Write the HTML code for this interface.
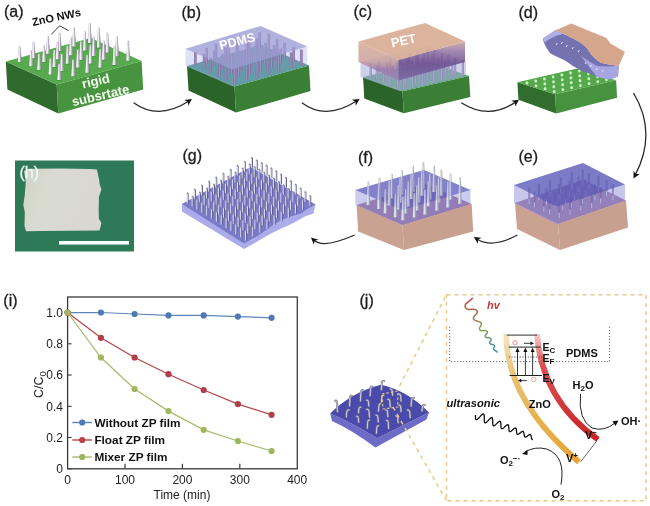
<!DOCTYPE html>
<html><head><meta charset="utf-8"><style>
html,body{margin:0;padding:0;background:#fff;overflow:hidden}
svg{display:block}
</style></head><body>
<svg width="650" height="506" viewBox="0 0 650 506">
<rect width="650" height="506" fill="#fff"/>
<text x="4" y="16.8" font-family="'Liberation Sans', Arial, sans-serif" font-size="16" fill="#1c1c1c" stroke="#1c1c1c" stroke-width="0.3">(a)</text>
<polygon points="5.8,61.5 56.7,84.6 58.3,113.6 7.4,89.5" fill="#2f6b2c" opacity="1"/><polygon points="56.7,84.6 141.6,61.0 143.2,89.5 58.3,113.6" fill="#48933f" opacity="1"/><polygon points="5.8,61.5 90.7,37.9 141.6,61.0 56.7,84.6" fill="#57aa4e" opacity="1"/>
<polygon points="87.2,43.8 92.4,43.8 91.3,33.2 88.3,33.2" fill="#3e8a38" opacity="0.5"/>
<path d="M87.9,43.0 L88.9,23.5 Q89.8,21.9 90.7,23.5 L91.7,43.0 Z" fill="#a8a2b2" opacity="1"/><path d="M87.9,43.0 L88.9,23.5 Q89.6,22.1 90.0,22.8 L90.2,43.0 Z" fill="#f2ecf2" opacity="1"/>
<polygon points="71.4,47.2 76.6,47.2 75.5,37.1 72.5,37.1" fill="#3e8a38" opacity="0.5"/>
<path d="M72.1,46.4 L73.2,27.7 Q74.0,26.2 74.9,27.7 L75.9,46.4 Z" fill="#a8a2b2" opacity="1"/><path d="M72.1,46.4 L73.2,27.7 Q73.8,26.3 74.2,27.0 L74.4,46.4 Z" fill="#f2ecf2" opacity="1"/>
<polygon points="96.2,48.4 101.4,48.4 100.3,37.8 97.3,37.8" fill="#3e8a38" opacity="0.5"/>
<path d="M96.9,47.6 L97.9,28.1 Q98.8,26.5 99.6,28.1 L100.7,47.6 Z" fill="#a8a2b2" opacity="1"/><path d="M96.9,47.6 L97.9,28.1 Q98.6,26.7 98.9,27.4 L99.1,47.6 Z" fill="#f2ecf2" opacity="1"/>
<polygon points="82.3,51.3 87.5,51.3 86.4,41.2 83.4,41.2" fill="#3e8a38" opacity="0.5"/>
<path d="M83.0,50.5 L84.1,31.8 Q84.9,30.3 85.8,31.8 L86.8,50.5 Z" fill="#a8a2b2" opacity="1"/><path d="M83.0,50.5 L84.1,31.8 Q84.7,30.5 85.1,31.2 L85.3,50.5 Z" fill="#f2ecf2" opacity="1"/>
<polygon points="57.1,51.9 62.3,51.9 61.2,42.1 58.2,42.1" fill="#3e8a38" opacity="0.5"/>
<path d="M57.8,51.1 L58.8,33.2 Q59.7,31.7 60.5,33.2 L61.6,51.1 Z" fill="#a8a2b2" opacity="1"/><path d="M57.8,51.1 L58.8,33.2 Q59.5,31.8 59.9,32.5 L60.1,51.1 Z" fill="#f2ecf2" opacity="1"/>
<polygon points="104.9,53.3 110.1,53.3 109.0,42.7 106.0,42.7" fill="#3e8a38" opacity="0.5"/>
<path d="M105.6,52.5 L106.6,33.0 Q107.5,31.4 108.3,33.0 L109.4,52.5 Z" fill="#a8a2b2" opacity="1"/><path d="M105.6,52.5 L106.6,33.0 Q107.3,31.6 107.7,32.3 L107.9,52.5 Z" fill="#f2ecf2" opacity="1"/>
<polygon points="45.3,54.5 50.5,54.5 49.4,45.2 46.4,45.2" fill="#3e8a38" opacity="0.5"/>
<path d="M46.0,53.7 L47.1,36.6 Q47.9,35.1 48.8,36.6 L49.8,53.7 Z" fill="#a8a2b2" opacity="1"/><path d="M46.0,53.7 L47.1,36.6 Q47.8,35.2 48.1,35.9 L48.3,53.7 Z" fill="#f2ecf2" opacity="1"/>
<polygon points="68.3,56.1 73.5,56.1 72.4,46.4 69.4,46.4" fill="#3e8a38" opacity="0.5"/>
<path d="M69.0,55.3 L70.0,37.4 Q70.9,35.9 71.7,37.4 L72.8,55.3 Z" fill="#a8a2b2" opacity="1"/><path d="M69.0,55.3 L70.0,37.4 Q70.7,36.1 71.1,36.8 L71.3,55.3 Z" fill="#f2ecf2" opacity="1"/>
<polygon points="91.2,56.8 96.4,56.8 95.3,46.7 92.3,46.7" fill="#3e8a38" opacity="0.5"/>
<path d="M91.9,56.0 L92.9,37.3 Q93.8,35.8 94.6,37.3 L95.7,56.0 Z" fill="#a8a2b2" opacity="1"/><path d="M91.9,56.0 L92.9,37.3 Q93.6,36.0 93.9,36.7 L94.1,56.0 Z" fill="#f2ecf2" opacity="1"/>
<polygon points="114.3,57.1 119.5,57.1 118.4,46.6 115.4,46.6" fill="#3e8a38" opacity="0.5"/>
<path d="M115.0,56.3 L116.0,36.8 Q116.9,35.3 117.7,36.8 L118.8,56.3 Z" fill="#a8a2b2" opacity="1"/><path d="M115.0,56.3 L116.0,36.8 Q116.7,35.5 117.1,36.1 L117.3,56.3 Z" fill="#f2ecf2" opacity="1"/>
<polygon points="31.0,59.1 36.2,59.1 35.1,50.1 32.1,50.1" fill="#3e8a38" opacity="0.5"/>
<path d="M31.7,58.3 L32.7,42.0 Q33.6,40.5 34.4,42.0 L35.5,58.3 Z" fill="#a8a2b2" opacity="1"/><path d="M31.7,58.3 L32.7,42.0 Q33.4,40.6 33.8,41.3 L34.0,58.3 Z" fill="#f2ecf2" opacity="1"/>
<polygon points="55.0,60.1 60.2,60.1 59.1,50.8 56.1,50.8" fill="#3e8a38" opacity="0.5"/>
<path d="M55.7,59.3 L56.8,42.2 Q57.6,40.7 58.5,42.2 L59.5,59.3 Z" fill="#a8a2b2" opacity="1"/><path d="M55.7,59.3 L56.8,42.2 Q57.5,40.8 57.8,41.5 L58.0,59.3 Z" fill="#f2ecf2" opacity="1"/>
<polygon points="101.2,60.6 106.4,60.6 105.3,50.5 102.3,50.5" fill="#3e8a38" opacity="0.5"/>
<path d="M101.9,59.8 L102.9,41.1 Q103.8,39.6 104.6,41.1 L105.7,59.8 Z" fill="#a8a2b2" opacity="1"/><path d="M101.9,59.8 L102.9,41.1 Q103.6,39.7 103.9,40.4 L104.1,59.8 Z" fill="#f2ecf2" opacity="1"/>
<polygon points="78.5,60.8 83.7,60.8 82.6,51.0 79.6,51.0" fill="#3e8a38" opacity="0.5"/>
<path d="M79.2,60.0 L80.3,42.1 Q81.1,40.6 82.0,42.1 L83.0,60.0 Z" fill="#a8a2b2" opacity="1"/><path d="M79.2,60.0 L80.3,42.1 Q81.0,40.7 81.3,41.4 L81.5,60.0 Z" fill="#f2ecf2" opacity="1"/>
<polygon points="125.6,61.5 130.8,61.5 129.7,50.9 126.7,50.9" fill="#3e8a38" opacity="0.5"/>
<path d="M126.3,60.7 L127.4,41.2 Q128.2,39.7 129.1,41.2 L130.1,60.7 Z" fill="#a8a2b2" opacity="1"/><path d="M126.3,60.7 L127.4,41.2 Q128.0,39.8 128.4,40.5 L128.6,60.7 Z" fill="#f2ecf2" opacity="1"/>
<polygon points="17.0,62.8 22.2,62.8 21.1,54.2 18.1,54.2" fill="#3e8a38" opacity="0.5"/>
<path d="M17.7,62.0 L18.8,46.5 Q19.6,44.9 20.5,46.5 L21.5,62.0 Z" fill="#a8a2b2" opacity="1"/><path d="M17.7,62.0 L18.8,46.5 Q19.4,45.1 19.8,45.8 L20.0,62.0 Z" fill="#f2ecf2" opacity="1"/>
<polygon points="41.5,62.8 46.7,62.8 45.6,53.9 42.6,53.9" fill="#3e8a38" opacity="0.5"/>
<path d="M42.2,62.0 L43.2,45.7 Q44.1,44.2 44.9,45.7 L46.0,62.0 Z" fill="#a8a2b2" opacity="1"/><path d="M42.2,62.0 L43.2,45.7 Q43.9,44.3 44.2,45.0 L44.5,62.0 Z" fill="#f2ecf2" opacity="1"/>
<polygon points="87.9,64.3 93.1,64.3 92.0,54.5 89.0,54.5" fill="#3e8a38" opacity="0.5"/>
<path d="M88.6,63.5 L89.7,45.6 Q90.5,44.0 91.4,45.6 L92.4,63.5 Z" fill="#a8a2b2" opacity="1"/><path d="M88.6,63.5 L89.7,45.6 Q90.4,44.2 90.7,44.9 L90.9,63.5 Z" fill="#f2ecf2" opacity="1"/>
<polygon points="65.0,64.5 70.2,64.5 69.1,55.2 66.1,55.2" fill="#3e8a38" opacity="0.5"/>
<path d="M65.7,63.7 L66.7,46.6 Q67.6,45.1 68.4,46.6 L69.5,63.7 Z" fill="#a8a2b2" opacity="1"/><path d="M65.7,63.7 L66.7,46.6 Q67.4,45.2 67.7,45.9 L67.9,63.7 Z" fill="#f2ecf2" opacity="1"/>
<polygon points="111.9,65.9 117.1,65.9 116.0,55.7 113.0,55.7" fill="#3e8a38" opacity="0.5"/>
<path d="M112.6,65.1 L113.6,46.4 Q114.5,44.8 115.4,46.4 L116.4,65.1 Z" fill="#a8a2b2" opacity="1"/><path d="M112.6,65.1 L113.6,46.4 Q114.3,45.0 114.7,45.7 L114.9,65.1 Z" fill="#f2ecf2" opacity="1"/>
<polygon points="28.5,67.1 33.7,67.1 32.6,58.5 29.6,58.5" fill="#3e8a38" opacity="0.5"/>
<path d="M29.2,66.3 L30.2,50.8 Q31.1,49.2 31.9,50.8 L33.0,66.3 Z" fill="#a8a2b2" opacity="1"/><path d="M29.2,66.3 L30.2,50.8 Q30.9,49.4 31.2,50.1 L31.5,66.3 Z" fill="#f2ecf2" opacity="1"/>
<polygon points="51.8,67.7 57.0,67.7 55.9,58.7 52.9,58.7" fill="#3e8a38" opacity="0.5"/>
<path d="M52.5,66.9 L53.6,50.6 Q54.4,49.0 55.3,50.6 L56.3,66.9 Z" fill="#a8a2b2" opacity="1"/><path d="M52.5,66.9 L53.6,50.6 Q54.2,49.2 54.6,49.9 L54.8,66.9 Z" fill="#f2ecf2" opacity="1"/>
<polygon points="75.4,68.2 80.6,68.2 79.5,58.9 76.5,58.9" fill="#3e8a38" opacity="0.5"/>
<path d="M76.1,67.4 L77.1,50.3 Q78.0,48.8 78.8,50.3 L79.9,67.4 Z" fill="#a8a2b2" opacity="1"/><path d="M76.1,67.4 L77.1,50.3 Q77.8,49.0 78.1,49.6 L78.4,67.4 Z" fill="#f2ecf2" opacity="1"/>
<polygon points="97.7,68.4 102.9,68.4 101.8,58.7 98.8,58.7" fill="#3e8a38" opacity="0.5"/>
<path d="M98.4,67.6 L99.5,49.7 Q100.3,48.2 101.2,49.7 L102.2,67.6 Z" fill="#a8a2b2" opacity="1"/><path d="M98.4,67.6 L99.5,49.7 Q100.2,48.4 100.5,49.1 L100.7,67.6 Z" fill="#f2ecf2" opacity="1"/>
<polygon points="36.5,70.8 41.7,70.8 40.6,62.2 37.6,62.2" fill="#3e8a38" opacity="0.5"/>
<path d="M37.2,70.0 L38.3,54.5 Q39.1,52.9 40.0,54.5 L41.0,70.0 Z" fill="#a8a2b2" opacity="1"/><path d="M37.2,70.0 L38.3,54.5 Q39.0,53.1 39.3,53.8 L39.5,70.0 Z" fill="#f2ecf2" opacity="1"/>
<polygon points="59.3,71.7 64.5,71.7 63.4,62.7 60.4,62.7" fill="#3e8a38" opacity="0.5"/>
<path d="M60.0,70.9 L61.0,54.6 Q61.9,53.0 62.8,54.6 L63.8,70.9 Z" fill="#a8a2b2" opacity="1"/><path d="M60.0,70.9 L61.0,54.6 Q61.7,53.2 62.1,53.9 L62.3,70.9 Z" fill="#f2ecf2" opacity="1"/>
<polygon points="84.7,73.5 89.9,73.5 88.8,64.1 85.8,64.1" fill="#3e8a38" opacity="0.5"/>
<path d="M85.4,72.7 L86.5,55.6 Q87.3,54.0 88.2,55.6 L89.2,72.7 Z" fill="#a8a2b2" opacity="1"/><path d="M85.4,72.7 L86.5,55.6 Q87.1,54.2 87.5,54.9 L87.7,72.7 Z" fill="#f2ecf2" opacity="1"/>
<polygon points="47.9,75.3 53.1,75.3 52.0,66.7 49.0,66.7" fill="#3e8a38" opacity="0.5"/>
<path d="M48.6,74.5 L49.7,59.0 Q50.5,57.4 51.4,59.0 L52.4,74.5 Z" fill="#a8a2b2" opacity="1"/><path d="M48.6,74.5 L49.7,59.0 Q50.4,57.6 50.7,58.3 L50.9,74.5 Z" fill="#f2ecf2" opacity="1"/>
<polygon points="70.6,77.1 75.8,77.1 74.7,68.2 71.7,68.2" fill="#3e8a38" opacity="0.5"/>
<path d="M71.3,76.3 L72.4,60.0 Q73.2,58.5 74.1,60.0 L75.1,76.3 Z" fill="#a8a2b2" opacity="1"/><path d="M71.3,76.3 L72.4,60.0 Q73.0,58.7 73.4,59.4 L73.6,76.3 Z" fill="#f2ecf2" opacity="1"/>
<polygon points="56.7,80.9 61.9,80.9 60.8,72.3 57.8,72.3" fill="#3e8a38" opacity="0.5"/>
<path d="M57.4,80.1 L58.5,64.6 Q59.3,63.0 60.2,64.6 L61.2,80.1 Z" fill="#a8a2b2" opacity="1"/><path d="M57.4,80.1 L58.5,64.6 Q59.2,63.2 59.5,63.9 L59.7,80.1 Z" fill="#f2ecf2" opacity="1"/>
<text x="0" y="0" font-family="'Liberation Sans', Arial, sans-serif" font-size="11" font-weight="bold" fill="#111" transform="translate(33,26) rotate(-12)">ZnO NWs</text>
<path d="M51.2,34.5 L59.6,25.8 L68.5,30.5" fill="none" stroke="#222" stroke-width="0.9"/>
<text x="0" y="0" font-family="'Liberation Sans', Arial, sans-serif" font-size="13" font-weight="bold" fill="#f4fff0" transform="translate(83,88.5) rotate(-13)">rigid</text>
<text x="0" y="0" font-family="'Liberation Sans', Arial, sans-serif" font-size="13" font-weight="bold" fill="#f4fff0" transform="translate(73,106.3) rotate(-13)">subsrtate</text>
<path d="M133.6,102.8 Q158.6,120.7 188.5,101.3" fill="none" stroke="#2a2a2a" stroke-width="1.3"/><polygon points="192.0,99.0 188.0,105.7 187.9,101.7 184.2,99.9" fill="#111"/>
<text x="181.5" y="17.8" font-family="'Liberation Sans', Arial, sans-serif" font-size="16" fill="#1c1c1c" stroke="#1c1c1c" stroke-width="0.3">(b)</text>
<polygon points="187.0,66.0 234.5,86.6 236.0,112.6 188.5,90.5" fill="#2b6428" opacity="1"/><polygon points="234.5,86.6 309.0,65.4 310.5,91.0 236.0,112.6" fill="#3a7f35" opacity="1"/><polygon points="187.0,66.0 261.5,44.8 309.0,65.4 234.5,86.6" fill="#4e9c90" opacity="1"/>
<rect x="258.4" y="32.4" width="2.6" height="15.5" fill="#7a5e90"/>
<rect x="259.1" y="32.4" width="0.9" height="15.5" fill="#b090b8"/>
<rect x="247.9" y="35.0" width="2.6" height="15.1" fill="#7a5e90"/>
<rect x="248.6" y="35.0" width="0.9" height="15.1" fill="#b090b8"/>
<rect x="267.5" y="33.8" width="2.6" height="16.5" fill="#7a5e90"/>
<rect x="268.2" y="33.8" width="0.9" height="16.5" fill="#b090b8"/>
<rect x="255.7" y="38.4" width="2.6" height="15.2" fill="#7a5e90"/>
<rect x="256.4" y="38.4" width="0.9" height="15.2" fill="#b090b8"/>
<rect x="236.0" y="39.3" width="2.6" height="14.8" fill="#7a5e90"/>
<rect x="236.7" y="39.3" width="0.9" height="14.8" fill="#b090b8"/>
<rect x="275.8" y="39.0" width="2.6" height="15.8" fill="#7a5e90"/>
<rect x="276.5" y="39.0" width="0.9" height="15.8" fill="#b090b8"/>
<rect x="227.3" y="41.9" width="2.6" height="15.6" fill="#7a5e90"/>
<rect x="228.0" y="41.9" width="0.9" height="15.6" fill="#b090b8"/>
<rect x="264.3" y="42.8" width="2.6" height="14.9" fill="#7a5e90"/>
<rect x="265.0" y="42.8" width="0.9" height="14.9" fill="#b090b8"/>
<rect x="245.4" y="42.9" width="2.6" height="15.1" fill="#7a5e90"/>
<rect x="246.1" y="42.9" width="0.9" height="15.1" fill="#b090b8"/>
<rect x="283.3" y="42.7" width="2.6" height="15.6" fill="#7a5e90"/>
<rect x="284.0" y="42.7" width="0.9" height="15.6" fill="#b090b8"/>
<rect x="214.7" y="43.6" width="2.6" height="15.7" fill="#7a5e90"/>
<rect x="215.4" y="43.6" width="0.9" height="15.7" fill="#b090b8"/>
<rect x="272.8" y="45.0" width="2.6" height="15.6" fill="#7a5e90"/>
<rect x="273.5" y="45.0" width="0.9" height="15.6" fill="#b090b8"/>
<rect x="254.7" y="44.5" width="2.6" height="16.2" fill="#7a5e90"/>
<rect x="255.4" y="44.5" width="0.9" height="16.2" fill="#b090b8"/>
<rect x="235.6" y="46.5" width="2.6" height="14.6" fill="#7a5e90"/>
<rect x="236.3" y="46.5" width="0.9" height="14.6" fill="#b090b8"/>
<rect x="292.3" y="46.8" width="2.6" height="15.6" fill="#7a5e90"/>
<rect x="293.0" y="46.8" width="0.9" height="15.6" fill="#b090b8"/>
<rect x="205.4" y="48.1" width="2.6" height="15.1" fill="#7a5e90"/>
<rect x="206.1" y="48.1" width="0.9" height="15.1" fill="#b090b8"/>
<rect x="224.2" y="47.4" width="2.6" height="15.8" fill="#7a5e90"/>
<rect x="224.9" y="47.4" width="0.9" height="15.8" fill="#b090b8"/>
<rect x="279.4" y="48.5" width="2.6" height="15.6" fill="#7a5e90"/>
<rect x="280.1" y="48.5" width="0.9" height="15.6" fill="#b090b8"/>
<rect x="263.1" y="49.5" width="2.6" height="14.9" fill="#7a5e90"/>
<rect x="263.8" y="49.5" width="0.9" height="14.9" fill="#b090b8"/>
<rect x="242.1" y="50.1" width="2.6" height="14.5" fill="#7a5e90"/>
<rect x="242.8" y="50.1" width="0.9" height="14.5" fill="#b090b8"/>
<rect x="300.1" y="49.6" width="2.6" height="16.0" fill="#7a5e90"/>
<rect x="300.8" y="49.6" width="0.9" height="16.0" fill="#b090b8"/>
<rect x="194.1" y="51.8" width="2.6" height="14.0" fill="#7a5e90"/>
<rect x="194.8" y="51.8" width="0.9" height="14.0" fill="#b090b8"/>
<rect x="212.9" y="50.5" width="2.6" height="15.4" fill="#7a5e90"/>
<rect x="213.6" y="50.5" width="0.9" height="15.4" fill="#b090b8"/>
<rect x="250.0" y="51.2" width="2.6" height="15.9" fill="#7a5e90"/>
<rect x="250.7" y="51.2" width="0.9" height="15.9" fill="#b090b8"/>
<rect x="230.3" y="53.2" width="2.6" height="14.4" fill="#7a5e90"/>
<rect x="231.0" y="53.2" width="0.9" height="14.4" fill="#b090b8"/>
<rect x="289.8" y="52.4" width="2.6" height="15.2" fill="#7a5e90"/>
<rect x="290.5" y="52.4" width="0.9" height="15.2" fill="#b090b8"/>
<rect x="270.5" y="52.2" width="2.6" height="16.1" fill="#7a5e90"/>
<rect x="271.2" y="52.2" width="0.9" height="16.1" fill="#b090b8"/>
<rect x="202.8" y="54.2" width="2.6" height="14.9" fill="#7a5e90"/>
<rect x="203.5" y="54.2" width="0.9" height="14.9" fill="#b090b8"/>
<rect x="221.1" y="54.2" width="2.6" height="15.4" fill="#7a5e90"/>
<rect x="221.8" y="54.2" width="0.9" height="15.4" fill="#b090b8"/>
<rect x="259.5" y="55.9" width="2.6" height="14.9" fill="#7a5e90"/>
<rect x="260.2" y="55.9" width="0.9" height="14.9" fill="#b090b8"/>
<rect x="239.7" y="56.6" width="2.6" height="14.3" fill="#7a5e90"/>
<rect x="240.4" y="56.6" width="0.9" height="14.3" fill="#b090b8"/>
<rect x="277.5" y="56.2" width="2.6" height="15.1" fill="#7a5e90"/>
<rect x="278.2" y="56.2" width="0.9" height="15.1" fill="#b090b8"/>
<rect x="208.9" y="57.9" width="2.6" height="15.2" fill="#7a5e90"/>
<rect x="209.6" y="57.9" width="0.9" height="15.2" fill="#b090b8"/>
<rect x="230.3" y="59.3" width="2.6" height="14.4" fill="#7a5e90"/>
<rect x="231.0" y="59.3" width="0.9" height="14.4" fill="#b090b8"/>
<rect x="248.4" y="59.4" width="2.6" height="14.7" fill="#7a5e90"/>
<rect x="249.1" y="59.4" width="0.9" height="14.7" fill="#b090b8"/>
<rect x="266.7" y="59.6" width="2.6" height="15.1" fill="#7a5e90"/>
<rect x="267.4" y="59.6" width="0.9" height="15.1" fill="#b090b8"/>
<rect x="237.5" y="61.9" width="2.6" height="14.6" fill="#7a5e90"/>
<rect x="238.2" y="61.9" width="0.9" height="14.6" fill="#b090b8"/>
<rect x="218.2" y="62.6" width="2.6" height="14.4" fill="#7a5e90"/>
<rect x="218.9" y="62.6" width="0.9" height="14.4" fill="#b090b8"/>
<rect x="255.8" y="61.5" width="2.6" height="15.9" fill="#7a5e90"/>
<rect x="256.5" y="61.5" width="0.9" height="15.9" fill="#b090b8"/>
<rect x="245.5" y="66.4" width="2.6" height="14.1" fill="#7a5e90"/>
<rect x="246.2" y="66.4" width="0.9" height="14.1" fill="#b090b8"/>
<rect x="224.7" y="66.9" width="2.6" height="13.6" fill="#7a5e90"/>
<rect x="225.4" y="66.9" width="0.9" height="13.6" fill="#b090b8"/>
<rect x="233.6" y="68.3" width="2.6" height="15.5" fill="#7a5e90"/>
<rect x="234.3" y="68.3" width="0.9" height="15.5" fill="#b090b8"/>
<polygon points="185.5,48.7 232.0,69.4 232.0,86.6 185.5,66.0" fill="#9c9ce0" opacity="0.3"/><polygon points="232.0,69.4 307.2,46.6 307.2,65.4 232.0,86.6" fill="#9c9ce0" opacity="0.3"/><polygon points="185.5,48.7 260.7,25.9 307.2,46.6 232.0,69.4" fill="#9e9ed6" opacity="0.8"/>
<text x="0" y="0" font-family="'Liberation Sans', Arial, sans-serif" font-size="12.6" font-weight="bold" fill="#fff" transform="translate(220.5,49.8) rotate(-14)">PDMS</text>
<path d="M301.8,102.8 Q325.9,120.7 356.1,101.3" fill="none" stroke="#2a2a2a" stroke-width="1.3"/><polygon points="359.6,99.0 355.6,105.7 355.5,101.7 351.8,99.8" fill="#111"/>
<text x="353.5" y="17.3" font-family="'Liberation Sans', Arial, sans-serif" font-size="16" fill="#1c1c1c" stroke="#1c1c1c" stroke-width="0.3">(c)</text>
<polygon points="363.0,77.0 402.5,91.3 403.8,113.3 364.3,98.5" fill="#2b6428" opacity="1"/><polygon points="402.5,91.3 469.0,76.0 470.3,97.0 403.8,113.3" fill="#3a7f35" opacity="1"/><polygon points="363.0,77.0 429.5,61.7 469.0,76.0 402.5,91.3" fill="#58a070" opacity="1"/>
<rect x="426.5" y="47.2" width="2.2" height="15.9" fill="#7c6e90"/>
<rect x="427.1" y="47.2" width="0.8" height="15.9" fill="#b4a8c4"/>
<rect x="416.9" y="50.1" width="2.2" height="15.6" fill="#7c6e90"/>
<rect x="417.5" y="50.1" width="0.8" height="15.6" fill="#b4a8c4"/>
<rect x="433.2" y="50.0" width="2.2" height="15.9" fill="#7c6e90"/>
<rect x="433.8" y="50.0" width="0.8" height="15.9" fill="#b4a8c4"/>
<rect x="408.1" y="52.8" width="2.2" height="15.3" fill="#7c6e90"/>
<rect x="408.7" y="52.8" width="0.8" height="15.3" fill="#b4a8c4"/>
<rect x="423.0" y="53.0" width="2.2" height="15.6" fill="#7c6e90"/>
<rect x="423.6" y="53.0" width="0.8" height="15.6" fill="#b4a8c4"/>
<rect x="440.8" y="53.0" width="2.2" height="15.9" fill="#7c6e90"/>
<rect x="441.4" y="53.0" width="0.8" height="15.9" fill="#b4a8c4"/>
<rect x="430.7" y="54.8" width="2.2" height="15.6" fill="#7c6e90"/>
<rect x="431.3" y="54.8" width="0.8" height="15.6" fill="#b4a8c4"/>
<rect x="415.4" y="55.4" width="2.2" height="15.3" fill="#7c6e90"/>
<rect x="416.0" y="55.4" width="0.8" height="15.3" fill="#b4a8c4"/>
<rect x="398.5" y="55.8" width="2.2" height="15.0" fill="#7c6e90"/>
<rect x="399.1" y="55.8" width="0.8" height="15.0" fill="#b4a8c4"/>
<rect x="447.4" y="55.1" width="2.2" height="15.9" fill="#7c6e90"/>
<rect x="448.0" y="55.1" width="0.8" height="15.9" fill="#b4a8c4"/>
<rect x="389.2" y="57.6" width="2.2" height="14.7" fill="#7c6e90"/>
<rect x="389.8" y="57.6" width="0.8" height="14.7" fill="#b4a8c4"/>
<rect x="437.2" y="57.7" width="2.2" height="15.6" fill="#7c6e90"/>
<rect x="437.8" y="57.7" width="0.8" height="15.6" fill="#b4a8c4"/>
<rect x="405.7" y="58.3" width="2.2" height="15.0" fill="#7c6e90"/>
<rect x="406.3" y="58.3" width="0.8" height="15.0" fill="#b4a8c4"/>
<rect x="421.2" y="58.1" width="2.2" height="15.3" fill="#7c6e90"/>
<rect x="421.8" y="58.1" width="0.8" height="15.3" fill="#b4a8c4"/>
<rect x="454.0" y="57.8" width="2.2" height="15.9" fill="#7c6e90"/>
<rect x="454.6" y="57.8" width="0.8" height="15.9" fill="#b4a8c4"/>
<rect x="427.0" y="59.9" width="2.2" height="15.3" fill="#7c6e90"/>
<rect x="427.6" y="59.9" width="0.8" height="15.3" fill="#b4a8c4"/>
<rect x="395.9" y="60.6" width="2.2" height="14.7" fill="#7c6e90"/>
<rect x="396.5" y="60.6" width="0.8" height="14.7" fill="#b4a8c4"/>
<rect x="378.3" y="61.0" width="2.2" height="14.4" fill="#7c6e90"/>
<rect x="378.9" y="61.0" width="0.8" height="14.4" fill="#b4a8c4"/>
<rect x="444.2" y="59.9" width="2.2" height="15.6" fill="#7c6e90"/>
<rect x="444.8" y="59.9" width="0.8" height="15.6" fill="#b4a8c4"/>
<rect x="410.9" y="60.7" width="2.2" height="15.0" fill="#7c6e90"/>
<rect x="411.5" y="60.7" width="0.8" height="15.0" fill="#b4a8c4"/>
<rect x="461.8" y="59.9" width="2.2" height="15.9" fill="#7c6e90"/>
<rect x="462.4" y="59.9" width="0.8" height="15.9" fill="#b4a8c4"/>
<rect x="385.9" y="62.3" width="2.2" height="14.4" fill="#7c6e90"/>
<rect x="386.5" y="62.3" width="0.8" height="14.4" fill="#b4a8c4"/>
<rect x="402.0" y="62.6" width="2.2" height="14.7" fill="#7c6e90"/>
<rect x="402.6" y="62.6" width="0.8" height="14.7" fill="#b4a8c4"/>
<rect x="369.6" y="63.5" width="2.2" height="14.1" fill="#7c6e90"/>
<rect x="370.2" y="63.5" width="0.8" height="14.1" fill="#b4a8c4"/>
<rect x="433.9" y="62.7" width="2.2" height="15.3" fill="#7c6e90"/>
<rect x="434.5" y="62.7" width="0.8" height="15.3" fill="#b4a8c4"/>
<rect x="418.6" y="63.2" width="2.2" height="15.0" fill="#7c6e90"/>
<rect x="419.2" y="63.2" width="0.8" height="15.0" fill="#b4a8c4"/>
<rect x="451.1" y="62.7" width="2.2" height="15.6" fill="#7c6e90"/>
<rect x="451.7" y="62.7" width="0.8" height="15.6" fill="#b4a8c4"/>
<rect x="375.7" y="65.2" width="2.2" height="14.1" fill="#7c6e90"/>
<rect x="376.3" y="65.2" width="0.8" height="14.1" fill="#b4a8c4"/>
<rect x="409.3" y="64.7" width="2.2" height="14.7" fill="#7c6e90"/>
<rect x="409.9" y="64.7" width="0.8" height="14.7" fill="#b4a8c4"/>
<rect x="440.6" y="64.7" width="2.2" height="15.3" fill="#7c6e90"/>
<rect x="441.2" y="64.7" width="0.8" height="15.3" fill="#b4a8c4"/>
<rect x="391.8" y="65.9" width="2.2" height="14.4" fill="#7c6e90"/>
<rect x="392.4" y="65.9" width="0.8" height="14.4" fill="#b4a8c4"/>
<rect x="426.2" y="65.6" width="2.2" height="15.0" fill="#7c6e90"/>
<rect x="426.8" y="65.6" width="0.8" height="15.0" fill="#b4a8c4"/>
<rect x="414.4" y="67.2" width="2.2" height="14.7" fill="#7c6e90"/>
<rect x="415.0" y="67.2" width="0.8" height="14.7" fill="#b4a8c4"/>
<rect x="382.6" y="67.9" width="2.2" height="14.1" fill="#7c6e90"/>
<rect x="383.2" y="67.9" width="0.8" height="14.1" fill="#b4a8c4"/>
<rect x="432.4" y="67.5" width="2.2" height="15.0" fill="#7c6e90"/>
<rect x="433.0" y="67.5" width="0.8" height="15.0" fill="#b4a8c4"/>
<rect x="399.8" y="68.2" width="2.2" height="14.4" fill="#7c6e90"/>
<rect x="400.4" y="68.2" width="0.8" height="14.4" fill="#b4a8c4"/>
<rect x="404.5" y="69.8" width="2.2" height="14.4" fill="#7c6e90"/>
<rect x="405.1" y="69.8" width="0.8" height="14.4" fill="#b4a8c4"/>
<rect x="388.2" y="70.7" width="2.2" height="14.1" fill="#7c6e90"/>
<rect x="388.8" y="70.7" width="0.8" height="14.1" fill="#b4a8c4"/>
<rect x="421.2" y="70.3" width="2.2" height="14.7" fill="#7c6e90"/>
<rect x="421.8" y="70.3" width="0.8" height="14.7" fill="#b4a8c4"/>
<rect x="396.5" y="72.2" width="2.2" height="14.1" fill="#7c6e90"/>
<rect x="397.1" y="72.2" width="0.8" height="14.1" fill="#b4a8c4"/>
<rect x="411.6" y="72.5" width="2.2" height="14.4" fill="#7c6e90"/>
<rect x="412.2" y="72.5" width="0.8" height="14.4" fill="#b4a8c4"/>
<rect x="402.8" y="75.1" width="2.2" height="14.1" fill="#7c6e90"/>
<rect x="403.4" y="75.1" width="0.8" height="14.1" fill="#b4a8c4"/>
<polygon points="360.5,62.0 400.0,77.3 400.0,91.3 360.5,77.0" fill="#a4acdc" opacity="0.55"/><polygon points="400.0,77.3 466.0,61.5 466.0,76.0 400.0,91.3" fill="#a4acdc" opacity="0.55"/><polygon points="360.5,62.0 426.5,46.2 466.0,61.5 400.0,77.3" fill="#9c9ce0" opacity="0.45"/>
<defs><linearGradient id="petL" x1="0" y1="0" x2="0" y2="1"><stop offset="0" stop-color="#d6aa92"/><stop offset="0.5" stop-color="#c9a09c"/><stop offset="0.72" stop-color="#9a7aa8"/><stop offset="1" stop-color="#9a86b8"/></linearGradient><linearGradient id="petR" x1="0" y1="0" x2="0" y2="1"><stop offset="0" stop-color="#c8a0a0"/><stop offset="0.25" stop-color="#9272a2"/><stop offset="0.55" stop-color="#6c4e8e"/><stop offset="1" stop-color="#7c66a2"/></linearGradient></defs>
<polygon points="358.5,41.5 398.5,60.0 398.5,80.5 358.5,62.0" fill="url(#petL)" opacity="0.85"/><polygon points="398.5,60.0 465.0,41.5 465.0,62.0 398.5,80.5" fill="url(#petR)" opacity="0.85"/><polygon points="358.5,41.5 425.0,23.0 465.0,41.5 398.5,60.0" fill="#d9ae96" opacity="0.93"/>
<text x="0" y="0" font-family="'Liberation Sans', Arial, sans-serif" font-size="13" font-weight="bold" fill="#fff" transform="translate(392,47.5) rotate(-12)">PET</text>
<path d="M461.2,102.8 Q488.9,120.3 515.5,102.1" fill="none" stroke="#2a2a2a" stroke-width="1.3"/><polygon points="519.0,99.7 515.2,106.5 515.0,102.5 511.2,100.8" fill="#111"/>
<text x="518.5" y="17.8" font-family="'Liberation Sans', Arial, sans-serif" font-size="16" fill="#1c1c1c" stroke="#1c1c1c" stroke-width="0.3">(d)</text>
<polygon points="517.4,82.2 555.2,94.2 556.2,113.5 518.4,99.7" fill="#316e2e" opacity="1"/><polygon points="555.2,94.2 616.1,80.3 617.1,97.8 556.2,113.5" fill="#47923f" opacity="1"/><polygon points="517.4,82.2 578.3,68.3 616.1,80.3 555.2,94.2" fill="#55a84c" opacity="1"/>
<ellipse cx="579.3" cy="71.0" rx="1.4" ry="1.6" fill="#cdf2c4"/>
<ellipse cx="570.6" cy="72.9" rx="1.4" ry="1.6" fill="#cdf2c4"/>
<ellipse cx="588.4" cy="73.8" rx="1.4" ry="1.6" fill="#cdf2c4"/>
<ellipse cx="561.9" cy="74.9" rx="1.4" ry="1.6" fill="#cdf2c4"/>
<ellipse cx="579.7" cy="75.8" rx="1.4" ry="1.6" fill="#cdf2c4"/>
<ellipse cx="597.5" cy="76.7" rx="1.4" ry="1.6" fill="#cdf2c4"/>
<ellipse cx="553.1" cy="76.9" rx="1.4" ry="1.6" fill="#cdf2c4"/>
<ellipse cx="570.9" cy="77.8" rx="1.4" ry="1.6" fill="#cdf2c4"/>
<ellipse cx="588.7" cy="78.7" rx="1.4" ry="1.6" fill="#cdf2c4"/>
<ellipse cx="544.4" cy="78.9" rx="1.4" ry="1.6" fill="#cdf2c4"/>
<ellipse cx="606.5" cy="79.6" rx="1.4" ry="1.6" fill="#cdf2c4"/>
<ellipse cx="562.2" cy="79.8" rx="1.4" ry="1.6" fill="#cdf2c4"/>
<ellipse cx="580.0" cy="80.7" rx="1.4" ry="1.6" fill="#cdf2c4"/>
<ellipse cx="535.7" cy="80.9" rx="1.4" ry="1.6" fill="#cdf2c4"/>
<ellipse cx="597.8" cy="81.6" rx="1.4" ry="1.6" fill="#cdf2c4"/>
<ellipse cx="553.5" cy="81.8" rx="1.4" ry="1.6" fill="#cdf2c4"/>
<ellipse cx="571.3" cy="82.7" rx="1.4" ry="1.6" fill="#cdf2c4"/>
<ellipse cx="527.0" cy="82.9" rx="1.4" ry="1.6" fill="#cdf2c4"/>
<ellipse cx="589.1" cy="83.6" rx="1.4" ry="1.6" fill="#cdf2c4"/>
<ellipse cx="544.8" cy="83.8" rx="1.4" ry="1.6" fill="#cdf2c4"/>
<ellipse cx="562.6" cy="84.7" rx="1.4" ry="1.6" fill="#cdf2c4"/>
<ellipse cx="580.4" cy="85.6" rx="1.4" ry="1.6" fill="#cdf2c4"/>
<ellipse cx="536.0" cy="85.8" rx="1.4" ry="1.6" fill="#cdf2c4"/>
<ellipse cx="553.8" cy="86.7" rx="1.4" ry="1.6" fill="#cdf2c4"/>
<ellipse cx="571.6" cy="87.6" rx="1.4" ry="1.6" fill="#cdf2c4"/>
<ellipse cx="545.1" cy="88.7" rx="1.4" ry="1.6" fill="#cdf2c4"/>
<ellipse cx="562.9" cy="89.6" rx="1.4" ry="1.6" fill="#cdf2c4"/>
<ellipse cx="554.2" cy="91.5" rx="1.4" ry="1.6" fill="#cdf2c4"/>
<path d="M542.7,38.8 L555,30.4 Q568,35 578,41 Q586,46 589,51 Q592,57 601,62.7 Q610,65 618.8,65.8 L618,76.5 L608.8,79.6 Q600,78 596.5,76.5 Q588,73 581,70.4 Q572,66 565.8,61 Q556,56 550.4,53.5 Q545,47 542.7,38.8 Z" fill="#7472b0"/>
<path d="M555,30.4 L571.2,23.5 L606.5,38 L610.4,43.5 L625,52 L618.8,65.8 Q610,65 601,62.7 Q592,57 589,51 Q586,46 578,41 Q568,35 555,30.4 Z" fill="#d6a68c"/>
<path d="M542.7,38.8 L555,30.4 Q560,32 563,34 Q552,36 545,42.5 Z" fill="#b0b0e8"/>
<path d="M581,56 Q590,62 597,66 Q608,67 618.8,65.8 L618,76.5 L608.8,79.6 Q600,78 596.5,76.5 Q590,68 581,56 Z" fill="#a6a6e2"/>
<line x1="556" y1="45" x2="557.5" y2="43" stroke="#e8e8f8" stroke-width="1"/>
<line x1="561" y1="44" x2="562.5" y2="42" stroke="#e8e8f8" stroke-width="1"/>
<line x1="566" y1="47" x2="567.5" y2="45" stroke="#e8e8f8" stroke-width="1"/>
<line x1="572" y1="49" x2="573.5" y2="47" stroke="#e8e8f8" stroke-width="1"/>
<line x1="578" y1="52" x2="579.5" y2="50" stroke="#e8e8f8" stroke-width="1"/>
<line x1="585" y1="64" x2="586.5" y2="62" stroke="#e8e8f8" stroke-width="1"/>
<line x1="590" y1="67" x2="591.5" y2="65" stroke="#e8e8f8" stroke-width="1"/>
<line x1="596" y1="70" x2="597.5" y2="68" stroke="#e8e8f8" stroke-width="1"/>
<line x1="602" y1="72" x2="603.5" y2="70" stroke="#e8e8f8" stroke-width="1"/>
<path d="M633.5,93.0 Q657.3,132.2 635.4,174.8" fill="none" stroke="#2a2a2a" stroke-width="1.3"/><polygon points="633.5,178.5 633.6,170.7 635.7,174.1 639.8,173.9" fill="#111"/>
<text x="518.5" y="162.1" font-family="'Liberation Sans', Arial, sans-serif" font-size="16" fill="#1c1c1c" stroke="#1c1c1c" stroke-width="0.3">(e)</text>
<polygon points="515.0,203.0 558.0,224.0 560.0,250.0 517.0,229.0" fill="#caa292" opacity="1"/><polygon points="558.0,224.0 626.0,200.5 628.0,227.5 560.0,250.0" fill="#c8a090" opacity="1"/><polygon points="515.0,203.0 583.0,179.5 626.0,200.5 558.0,224.0" fill="#9a7298" opacity="1"/>
<line x1="582.8" y1="185.3" x2="582.8" y2="169.3" stroke="#4a3a80" stroke-width="2" opacity="0.6"/>
<line x1="582.8" y1="185.3" x2="582.8" y2="180.3" stroke="#e8e8f4" stroke-width="1.2" opacity="0.9"/>
<line x1="571.7" y1="188.4" x2="571.7" y2="172.4" stroke="#4a3a80" stroke-width="2" opacity="0.6"/>
<line x1="571.7" y1="188.4" x2="571.7" y2="183.4" stroke="#e8e8f4" stroke-width="1.2" opacity="0.9"/>
<line x1="589.0" y1="189.1" x2="589.0" y2="173.1" stroke="#4a3a80" stroke-width="2" opacity="0.6"/>
<line x1="589.0" y1="189.1" x2="589.0" y2="184.1" stroke="#e8e8f4" stroke-width="1.2" opacity="0.9"/>
<line x1="598.5" y1="191.7" x2="598.5" y2="175.7" stroke="#4a3a80" stroke-width="2" opacity="0.6"/>
<line x1="598.5" y1="191.7" x2="598.5" y2="186.7" stroke="#e8e8f4" stroke-width="1.2" opacity="0.9"/>
<line x1="578.6" y1="192.4" x2="578.6" y2="176.4" stroke="#4a3a80" stroke-width="2" opacity="0.6"/>
<line x1="578.6" y1="192.4" x2="578.6" y2="187.4" stroke="#e8e8f4" stroke-width="1.2" opacity="0.9"/>
<line x1="560.7" y1="192.8" x2="560.7" y2="176.8" stroke="#4a3a80" stroke-width="2" opacity="0.6"/>
<line x1="560.7" y1="192.8" x2="560.7" y2="187.8" stroke="#e8e8f4" stroke-width="1.2" opacity="0.9"/>
<line x1="585.3" y1="195.6" x2="585.3" y2="179.6" stroke="#4a3a80" stroke-width="2" opacity="0.6"/>
<line x1="585.3" y1="195.6" x2="585.3" y2="190.6" stroke="#e8e8f4" stroke-width="1.2" opacity="0.9"/>
<line x1="606.6" y1="196.1" x2="606.6" y2="180.1" stroke="#4a3a80" stroke-width="2" opacity="0.6"/>
<line x1="606.6" y1="196.1" x2="606.6" y2="191.1" stroke="#e8e8f4" stroke-width="1.2" opacity="0.9"/>
<line x1="550.0" y1="196.6" x2="550.0" y2="180.6" stroke="#4a3a80" stroke-width="2" opacity="0.6"/>
<line x1="550.0" y1="196.6" x2="550.0" y2="191.6" stroke="#e8e8f4" stroke-width="1.2" opacity="0.9"/>
<line x1="569.6" y1="196.6" x2="569.6" y2="180.6" stroke="#4a3a80" stroke-width="2" opacity="0.6"/>
<line x1="569.6" y1="196.6" x2="569.6" y2="191.6" stroke="#e8e8f4" stroke-width="1.2" opacity="0.9"/>
<line x1="558.8" y1="199.8" x2="558.8" y2="183.8" stroke="#4a3a80" stroke-width="2" opacity="0.6"/>
<line x1="558.8" y1="199.8" x2="558.8" y2="194.8" stroke="#e8e8f4" stroke-width="1.2" opacity="0.9"/>
<line x1="538.9" y1="199.8" x2="538.9" y2="183.8" stroke="#4a3a80" stroke-width="2" opacity="0.6"/>
<line x1="538.9" y1="199.8" x2="538.9" y2="194.8" stroke="#e8e8f4" stroke-width="1.2" opacity="0.9"/>
<line x1="574.7" y1="200.0" x2="574.7" y2="184.0" stroke="#4a3a80" stroke-width="2" opacity="0.6"/>
<line x1="574.7" y1="200.0" x2="574.7" y2="195.0" stroke="#e8e8f4" stroke-width="1.2" opacity="0.9"/>
<line x1="612.9" y1="200.2" x2="612.9" y2="184.2" stroke="#4a3a80" stroke-width="2" opacity="0.6"/>
<line x1="612.9" y1="200.2" x2="612.9" y2="195.2" stroke="#e8e8f4" stroke-width="1.2" opacity="0.9"/>
<line x1="594.9" y1="200.3" x2="594.9" y2="184.3" stroke="#4a3a80" stroke-width="2" opacity="0.6"/>
<line x1="594.9" y1="200.3" x2="594.9" y2="195.3" stroke="#e8e8f4" stroke-width="1.2" opacity="0.9"/>
<line x1="600.6" y1="203.2" x2="600.6" y2="187.2" stroke="#4a3a80" stroke-width="2" opacity="0.6"/>
<line x1="600.6" y1="203.2" x2="600.6" y2="198.2" stroke="#e8e8f4" stroke-width="1.2" opacity="0.9"/>
<line x1="565.8" y1="203.7" x2="565.8" y2="187.7" stroke="#4a3a80" stroke-width="2" opacity="0.6"/>
<line x1="565.8" y1="203.7" x2="565.8" y2="198.7" stroke="#e8e8f4" stroke-width="1.2" opacity="0.9"/>
<line x1="529.2" y1="204.0" x2="529.2" y2="188.0" stroke="#4a3a80" stroke-width="2" opacity="0.6"/>
<line x1="529.2" y1="204.0" x2="529.2" y2="199.0" stroke="#e8e8f4" stroke-width="1.2" opacity="0.9"/>
<line x1="582.3" y1="204.1" x2="582.3" y2="188.1" stroke="#4a3a80" stroke-width="2" opacity="0.6"/>
<line x1="582.3" y1="204.1" x2="582.3" y2="199.1" stroke="#e8e8f4" stroke-width="1.2" opacity="0.9"/>
<line x1="546.4" y1="204.3" x2="546.4" y2="188.3" stroke="#4a3a80" stroke-width="2" opacity="0.6"/>
<line x1="546.4" y1="204.3" x2="546.4" y2="199.3" stroke="#e8e8f4" stroke-width="1.2" opacity="0.9"/>
<line x1="534.5" y1="207.4" x2="534.5" y2="191.4" stroke="#4a3a80" stroke-width="2" opacity="0.6"/>
<line x1="534.5" y1="207.4" x2="534.5" y2="202.4" stroke="#e8e8f4" stroke-width="1.2" opacity="0.9"/>
<line x1="555.1" y1="207.6" x2="555.1" y2="191.6" stroke="#4a3a80" stroke-width="2" opacity="0.6"/>
<line x1="555.1" y1="207.6" x2="555.1" y2="202.6" stroke="#e8e8f4" stroke-width="1.2" opacity="0.9"/>
<line x1="571.2" y1="207.8" x2="571.2" y2="191.8" stroke="#4a3a80" stroke-width="2" opacity="0.6"/>
<line x1="571.2" y1="207.8" x2="571.2" y2="202.8" stroke="#e8e8f4" stroke-width="1.2" opacity="0.9"/>
<line x1="591.7" y1="207.9" x2="591.7" y2="191.9" stroke="#4a3a80" stroke-width="2" opacity="0.6"/>
<line x1="591.7" y1="207.9" x2="591.7" y2="202.9" stroke="#e8e8f4" stroke-width="1.2" opacity="0.9"/>
<line x1="580.8" y1="210.4" x2="580.8" y2="194.4" stroke="#4a3a80" stroke-width="2" opacity="0.6"/>
<line x1="580.8" y1="210.4" x2="580.8" y2="205.4" stroke="#e8e8f4" stroke-width="1.2" opacity="0.9"/>
<line x1="562.8" y1="210.6" x2="562.8" y2="194.6" stroke="#4a3a80" stroke-width="2" opacity="0.6"/>
<line x1="562.8" y1="210.6" x2="562.8" y2="205.6" stroke="#e8e8f4" stroke-width="1.2" opacity="0.9"/>
<line x1="543.8" y1="211.7" x2="543.8" y2="195.7" stroke="#4a3a80" stroke-width="2" opacity="0.6"/>
<line x1="543.8" y1="211.7" x2="543.8" y2="206.7" stroke="#e8e8f4" stroke-width="1.2" opacity="0.9"/>
<line x1="549.6" y1="214.2" x2="549.6" y2="198.2" stroke="#4a3a80" stroke-width="2" opacity="0.6"/>
<line x1="549.6" y1="214.2" x2="549.6" y2="209.2" stroke="#e8e8f4" stroke-width="1.2" opacity="0.9"/>
<line x1="570.0" y1="214.8" x2="570.0" y2="198.8" stroke="#4a3a80" stroke-width="2" opacity="0.6"/>
<line x1="570.0" y1="214.8" x2="570.0" y2="209.8" stroke="#e8e8f4" stroke-width="1.2" opacity="0.9"/>
<line x1="559.2" y1="217.8" x2="559.2" y2="201.8" stroke="#4a3a80" stroke-width="2" opacity="0.6"/>
<line x1="559.2" y1="217.8" x2="559.2" y2="212.8" stroke="#e8e8f4" stroke-width="1.2" opacity="0.9"/>
<polygon points="514.0,185.0 556.0,206.5 556.0,224.0 514.0,203.0" fill="#9090dc" opacity="0.5"/><polygon points="556.0,206.5 625.0,184.5 625.0,200.5 556.0,224.0" fill="#9090dc" opacity="0.5"/><polygon points="514.0,185.0 583.0,163.0 625.0,184.5 556.0,206.5" fill="#6262bc" opacity="0.84"/>
<path d="M517.4,235.0 Q492.4,248.6 477.4,239.2" fill="none" stroke="#2a2a2a" stroke-width="1.3"/><polygon points="473.8,237.0 481.6,237.7 478.0,239.6 477.9,243.7" fill="#111"/>
<text x="358" y="162.5" font-family="'Liberation Sans', Arial, sans-serif" font-size="16" fill="#1c1c1c" stroke="#1c1c1c" stroke-width="0.3">(f)</text>
<polygon points="356.6,205.0 402.5,225.0 404.0,250.0 358.1,231.4" fill="#caa292" opacity="1"/><polygon points="402.5,225.0 471.7,204.0 473.2,231.4 404.0,250.0" fill="#c8a090" opacity="1"/><polygon points="356.6,205.0 425.8,184.0 471.7,204.0 402.5,225.0" fill="#9a7298" opacity="1"/>
<polygon points="355.4,190.0 402.0,210.0 402.0,225.0 355.4,205.0" fill="#8c8cd8" opacity="0.35"/><polygon points="402.0,210.0 470.5,190.0 470.5,204.0 402.0,225.0" fill="#8c8cd8" opacity="0.35"/><polygon points="355.4,190.0 423.9,170.0 470.5,190.0 402.0,210.0" fill="#6060b8" opacity="0.72"/>
<path d="M421.6,188.5 L422.6,162.8 Q423.4,161.3 424.2,162.8 L425.2,188.5 Z" fill="#a4a4b0" opacity="1"/><path d="M421.6,188.5 L422.6,162.8 Q423.2,161.5 423.5,162.2 L423.7,188.5 Z" fill="#ececec" opacity="1"/>
<path d="M411.2,191.8 L412.1,166.5 Q413.0,165.1 413.8,166.5 L414.8,191.8 Z" fill="#a4a4b0" opacity="1"/><path d="M411.2,191.8 L412.1,166.5 Q412.8,165.2 413.1,165.9 L413.3,191.8 Z" fill="#ececec" opacity="1"/>
<path d="M432.3,191.9 L433.3,166.2 Q434.1,164.7 434.9,166.2 L435.9,191.9 Z" fill="#a4a4b0" opacity="1"/><path d="M432.3,191.9 L433.3,166.2 Q433.9,164.9 434.2,165.5 L434.4,191.9 Z" fill="#ececec" opacity="1"/>
<path d="M400.1,195.1 L401.1,170.4 Q401.9,168.9 402.7,170.4 L403.7,195.1 Z" fill="#a4a4b0" opacity="1"/><path d="M400.1,195.1 L401.1,170.4 Q401.8,169.1 402.1,169.7 L402.3,195.1 Z" fill="#ececec" opacity="1"/>
<path d="M439.6,195.8 L440.6,170.1 Q441.4,168.6 442.2,170.1 L443.2,195.8 Z" fill="#a4a4b0" opacity="1"/><path d="M439.6,195.8 L440.6,170.1 Q441.2,168.8 441.5,169.4 L441.7,195.8 Z" fill="#ececec" opacity="1"/>
<path d="M420.2,195.8 L421.2,170.6 Q422.0,169.2 422.8,170.6 L423.8,195.8 Z" fill="#a4a4b0" opacity="1"/><path d="M420.2,195.8 L421.2,170.6 Q421.8,169.3 422.2,170.0 L422.4,195.8 Z" fill="#ececec" opacity="1"/>
<path d="M390.0,198.5 L391.0,174.2 Q391.8,172.7 392.6,174.2 L393.6,198.5 Z" fill="#a4a4b0" opacity="1"/><path d="M390.0,198.5 L391.0,174.2 Q391.6,172.9 391.9,173.5 L392.1,198.5 Z" fill="#ececec" opacity="1"/>
<path d="M409.6,199.0 L410.6,174.3 Q411.4,172.8 412.2,174.3 L413.2,199.0 Z" fill="#a4a4b0" opacity="1"/><path d="M409.6,199.0 L410.6,174.3 Q411.2,173.0 411.5,173.7 L411.7,199.0 Z" fill="#ececec" opacity="1"/>
<path d="M428.2,199.6 L429.2,174.3 Q430.0,172.9 430.8,174.3 L431.8,199.6 Z" fill="#a4a4b0" opacity="1"/><path d="M428.2,199.6 L429.2,174.3 Q429.9,173.0 430.2,173.7 L430.4,199.6 Z" fill="#ececec" opacity="1"/>
<path d="M448.7,199.8 L449.7,174.1 Q450.5,172.6 451.3,174.1 L452.3,199.8 Z" fill="#a4a4b0" opacity="1"/><path d="M448.7,199.8 L449.7,174.1 Q450.3,172.8 450.7,173.4 L450.9,199.8 Z" fill="#ececec" opacity="1"/>
<path d="M377.7,202.1 L378.7,178.3 Q379.5,176.8 380.3,178.3 L381.3,202.1 Z" fill="#a4a4b0" opacity="1"/><path d="M377.7,202.1 L378.7,178.3 Q379.3,177.0 379.7,177.7 L379.9,202.1 Z" fill="#ececec" opacity="1"/>
<path d="M417.1,202.5 L418.1,177.8 Q418.9,176.3 419.7,177.8 L420.7,202.5 Z" fill="#a4a4b0" opacity="1"/><path d="M417.1,202.5 L418.1,177.8 Q418.8,176.5 419.1,177.2 L419.3,202.5 Z" fill="#ececec" opacity="1"/>
<path d="M398.6,202.7 L399.5,178.4 Q400.4,177.0 401.2,178.4 L402.2,202.7 Z" fill="#a4a4b0" opacity="1"/><path d="M398.6,202.7 L399.5,178.4 Q400.2,177.1 400.5,177.8 L400.7,202.7 Z" fill="#ececec" opacity="1"/>
<path d="M437.0,202.7 L438.0,177.5 Q438.8,176.0 439.6,177.5 L440.6,202.7 Z" fill="#a4a4b0" opacity="1"/><path d="M437.0,202.7 L438.0,177.5 Q438.6,176.2 439.0,176.8 L439.2,202.7 Z" fill="#ececec" opacity="1"/>
<path d="M458.2,203.8 L459.2,178.1 Q460.0,176.6 460.9,178.1 L461.8,203.8 Z" fill="#a4a4b0" opacity="1"/><path d="M458.2,203.8 L459.2,178.1 Q459.9,176.8 460.2,177.4 L460.4,203.8 Z" fill="#ececec" opacity="1"/>
<path d="M366.6,204.9 L367.6,181.6 Q368.4,180.2 369.2,181.6 L370.2,204.9 Z" fill="#a4a4b0" opacity="1"/><path d="M366.6,204.9 L367.6,181.6 Q368.2,180.3 368.6,181.0 L368.8,204.9 Z" fill="#ececec" opacity="1"/>
<path d="M387.6,205.3 L388.6,181.6 Q389.4,180.1 390.2,181.6 L391.2,205.3 Z" fill="#a4a4b0" opacity="1"/><path d="M387.6,205.3 L388.6,181.6 Q389.3,180.3 389.6,180.9 L389.8,205.3 Z" fill="#ececec" opacity="1"/>
<path d="M426.8,206.3 L427.8,181.6 Q428.6,180.1 429.4,181.6 L430.4,206.3 Z" fill="#a4a4b0" opacity="1"/><path d="M426.8,206.3 L427.8,181.6 Q428.4,180.3 428.8,181.0 L429.0,206.3 Z" fill="#ececec" opacity="1"/>
<path d="M406.7,206.4 L407.7,182.2 Q408.5,180.7 409.3,182.2 L410.3,206.4 Z" fill="#a4a4b0" opacity="1"/><path d="M406.7,206.4 L407.7,182.2 Q408.3,180.9 408.6,181.5 L408.8,206.4 Z" fill="#ececec" opacity="1"/>
<path d="M446.3,207.5 L447.3,182.2 Q448.1,180.8 448.9,182.2 L449.9,207.5 Z" fill="#a4a4b0" opacity="1"/><path d="M446.3,207.5 L447.3,182.2 Q448.0,180.9 448.3,181.6 L448.5,207.5 Z" fill="#ececec" opacity="1"/>
<path d="M377.1,209.0 L378.1,185.7 Q378.9,184.2 379.7,185.7 L380.7,209.0 Z" fill="#a4a4b0" opacity="1"/><path d="M377.1,209.0 L378.1,185.7 Q378.7,184.4 379.0,185.0 L379.2,209.0 Z" fill="#ececec" opacity="1"/>
<path d="M396.7,209.6 L397.7,185.8 Q398.5,184.3 399.4,185.8 L400.3,209.6 Z" fill="#a4a4b0" opacity="1"/><path d="M396.7,209.6 L397.7,185.8 Q398.4,184.5 398.7,185.1 L398.9,209.6 Z" fill="#ececec" opacity="1"/>
<path d="M415.3,210.4 L416.3,186.1 Q417.1,184.7 417.9,186.1 L418.9,210.4 Z" fill="#a4a4b0" opacity="1"/><path d="M415.3,210.4 L416.3,186.1 Q417.0,184.8 417.3,185.5 L417.5,210.4 Z" fill="#ececec" opacity="1"/>
<path d="M435.3,210.5 L436.3,185.8 Q437.1,184.3 437.9,185.8 L438.9,210.5 Z" fill="#a4a4b0" opacity="1"/><path d="M435.3,210.5 L436.3,185.8 Q436.9,184.5 437.2,185.2 L437.4,210.5 Z" fill="#ececec" opacity="1"/>
<path d="M383.7,213.2 L384.7,189.9 Q385.5,188.4 386.3,189.9 L387.3,213.2 Z" fill="#a4a4b0" opacity="1"/><path d="M383.7,213.2 L384.7,189.9 Q385.3,188.6 385.7,189.2 L385.9,213.2 Z" fill="#ececec" opacity="1"/>
<path d="M404.0,213.6 L405.0,189.8 Q405.8,188.3 406.6,189.8 L407.6,213.6 Z" fill="#a4a4b0" opacity="1"/><path d="M404.0,213.6 L405.0,189.8 Q405.6,188.5 405.9,189.2 L406.1,213.6 Z" fill="#ececec" opacity="1"/>
<path d="M423.4,214.4 L424.4,190.1 Q425.2,188.7 426.0,190.1 L427.0,214.4 Z" fill="#a4a4b0" opacity="1"/><path d="M423.4,214.4 L424.4,190.1 Q425.0,188.8 425.4,189.5 L425.6,214.4 Z" fill="#ececec" opacity="1"/>
<path d="M393.8,217.2 L394.8,193.9 Q395.6,192.5 396.5,193.9 L397.4,217.2 Z" fill="#a4a4b0" opacity="1"/><path d="M393.8,217.2 L394.8,193.9 Q395.5,192.6 395.8,193.3 L396.0,217.2 Z" fill="#ececec" opacity="1"/>
<path d="M412.8,217.5 L413.7,193.7 Q414.6,192.2 415.4,193.7 L416.4,217.5 Z" fill="#a4a4b0" opacity="1"/><path d="M412.8,217.5 L413.7,193.7 Q414.4,192.4 414.7,193.0 L414.9,217.5 Z" fill="#ececec" opacity="1"/>
<path d="M401.3,220.3 L402.3,197.0 Q403.1,195.6 403.9,197.0 L404.9,220.3 Z" fill="#a4a4b0" opacity="1"/><path d="M401.3,220.3 L402.3,197.0 Q403.0,195.7 403.3,196.4 L403.5,220.3 Z" fill="#ececec" opacity="1"/>
<polygon points="355.4,190.0 402.0,210.0 402.0,225.0 355.4,205.0" fill="#9090e8" opacity="0.15"/><polygon points="402.0,210.0 470.5,190.0 470.5,204.0 402.0,225.0" fill="#9090e8" opacity="0.15"/><polygon points="355.4,190.0 423.9,170.0 470.5,190.0 402.0,210.0" fill="#6a6ad0" opacity="0.3"/>
<path d="M354.6,235.0 Q323.2,248.8 314.1,240.3" fill="none" stroke="#2a2a2a" stroke-width="1.3"/><polygon points="311.0,237.5 318.5,239.7 314.6,240.8 313.8,244.8" fill="#111"/>
<text x="182.5" y="160.5" font-family="'Liberation Sans', Arial, sans-serif" font-size="16" fill="#1c1c1c" stroke="#1c1c1c" stroke-width="0.3">(g)</text>
<path d="M182,204 L250.7,167 L315.4,204.5 L313.6,213.4 Q307,215 301,218.7 Q292,224 283.4,227.6 Q274,232 265.6,236.5 Q255,243 244,249 L182,211.5 Z" fill="#acacea"/>
<path d="M182,204 L250.7,167 L315.4,204.5 Q308,208 301,213.4 Q295,215 288.7,217 Q281,220 274.5,224 Q265,231 256.7,236.5 Q250,240 244,243.6 Z" fill="#7a7acb"/>
<line x1="252.4" y1="167.8" x2="252.4" y2="157.8" stroke="#5a5a80" stroke-width="1.1"/>
<line x1="251.5" y1="167.8" x2="251.5" y2="157.8" stroke="#d8d8e8" stroke-width="1.1"/>
<circle cx="251.9" cy="157.8" r="0.9" fill="#9090a8"/>
<line x1="257.2" y1="170.3" x2="257.2" y2="160.3" stroke="#5a5a80" stroke-width="1.1"/>
<line x1="256.3" y1="170.3" x2="256.3" y2="160.3" stroke="#d8d8e8" stroke-width="1.1"/>
<circle cx="256.7" cy="160.3" r="0.9" fill="#9090a8"/>
<line x1="245.2" y1="171.7" x2="245.2" y2="161.7" stroke="#5a5a80" stroke-width="1.1"/>
<line x1="244.4" y1="171.7" x2="244.4" y2="161.7" stroke="#d8d8e8" stroke-width="1.1"/>
<circle cx="244.8" cy="161.7" r="0.9" fill="#9090a8"/>
<line x1="262.1" y1="172.8" x2="262.1" y2="162.8" stroke="#5a5a80" stroke-width="1.1"/>
<line x1="261.2" y1="172.8" x2="261.2" y2="162.8" stroke="#d8d8e8" stroke-width="1.1"/>
<circle cx="261.6" cy="162.8" r="0.9" fill="#9090a8"/>
<line x1="250.1" y1="174.3" x2="250.1" y2="164.3" stroke="#5a5a80" stroke-width="1.1"/>
<line x1="249.2" y1="174.3" x2="249.2" y2="164.3" stroke="#d8d8e8" stroke-width="1.1"/>
<circle cx="249.6" cy="164.3" r="0.9" fill="#9090a8"/>
<line x1="238.1" y1="175.7" x2="238.1" y2="165.7" stroke="#5a5a80" stroke-width="1.1"/>
<line x1="237.2" y1="175.7" x2="237.2" y2="165.7" stroke="#d8d8e8" stroke-width="1.1"/>
<circle cx="237.6" cy="165.7" r="0.9" fill="#9090a8"/>
<line x1="267.0" y1="175.5" x2="267.0" y2="165.5" stroke="#5a5a80" stroke-width="1.1"/>
<line x1="266.1" y1="175.5" x2="266.1" y2="165.5" stroke="#d8d8e8" stroke-width="1.1"/>
<circle cx="266.5" cy="165.5" r="0.9" fill="#9090a8"/>
<line x1="255.0" y1="176.9" x2="255.0" y2="166.9" stroke="#5a5a80" stroke-width="1.1"/>
<line x1="254.1" y1="176.9" x2="254.1" y2="166.9" stroke="#d8d8e8" stroke-width="1.1"/>
<circle cx="254.5" cy="166.9" r="0.9" fill="#9090a8"/>
<line x1="243.0" y1="178.3" x2="243.0" y2="168.3" stroke="#5a5a80" stroke-width="1.1"/>
<line x1="242.1" y1="178.3" x2="242.1" y2="168.3" stroke="#d8d8e8" stroke-width="1.1"/>
<circle cx="242.5" cy="168.3" r="0.9" fill="#9090a8"/>
<line x1="231.0" y1="179.6" x2="231.0" y2="169.6" stroke="#5a5a80" stroke-width="1.1"/>
<line x1="230.1" y1="179.6" x2="230.1" y2="169.6" stroke="#d8d8e8" stroke-width="1.1"/>
<circle cx="230.5" cy="169.6" r="0.9" fill="#9090a8"/>
<line x1="271.8" y1="178.2" x2="271.8" y2="168.2" stroke="#5a5a80" stroke-width="1.1"/>
<line x1="270.9" y1="178.2" x2="270.9" y2="168.2" stroke="#d8d8e8" stroke-width="1.1"/>
<circle cx="271.3" cy="168.2" r="0.9" fill="#9090a8"/>
<line x1="259.8" y1="179.6" x2="259.8" y2="169.6" stroke="#5a5a80" stroke-width="1.1"/>
<line x1="258.9" y1="179.6" x2="258.9" y2="169.6" stroke="#d8d8e8" stroke-width="1.1"/>
<circle cx="259.3" cy="169.6" r="0.9" fill="#9090a8"/>
<line x1="247.8" y1="180.9" x2="247.8" y2="170.9" stroke="#5a5a80" stroke-width="1.1"/>
<line x1="246.9" y1="180.9" x2="246.9" y2="170.9" stroke="#d8d8e8" stroke-width="1.1"/>
<circle cx="247.3" cy="170.9" r="0.9" fill="#9090a8"/>
<line x1="235.8" y1="182.3" x2="235.8" y2="172.3" stroke="#5a5a80" stroke-width="1.1"/>
<line x1="234.9" y1="182.3" x2="234.9" y2="172.3" stroke="#d8d8e8" stroke-width="1.1"/>
<circle cx="235.3" cy="172.3" r="0.9" fill="#9090a8"/>
<line x1="276.7" y1="181.2" x2="276.7" y2="171.2" stroke="#5a5a80" stroke-width="1.1"/>
<line x1="275.8" y1="181.2" x2="275.8" y2="171.2" stroke="#d8d8e8" stroke-width="1.1"/>
<circle cx="276.2" cy="171.2" r="0.9" fill="#9090a8"/>
<line x1="223.8" y1="183.5" x2="223.8" y2="173.5" stroke="#5a5a80" stroke-width="1.1"/>
<line x1="222.9" y1="183.5" x2="222.9" y2="173.5" stroke="#d8d8e8" stroke-width="1.1"/>
<circle cx="223.3" cy="173.5" r="0.9" fill="#9090a8"/>
<line x1="264.7" y1="182.4" x2="264.7" y2="172.4" stroke="#5a5a80" stroke-width="1.1"/>
<line x1="263.8" y1="182.4" x2="263.8" y2="172.4" stroke="#d8d8e8" stroke-width="1.1"/>
<circle cx="264.2" cy="172.4" r="0.9" fill="#9090a8"/>
<line x1="252.7" y1="183.7" x2="252.7" y2="173.7" stroke="#5a5a80" stroke-width="1.1"/>
<line x1="251.8" y1="183.7" x2="251.8" y2="173.7" stroke="#d8d8e8" stroke-width="1.1"/>
<circle cx="252.2" cy="173.7" r="0.9" fill="#9090a8"/>
<line x1="240.7" y1="185.0" x2="240.7" y2="175.0" stroke="#5a5a80" stroke-width="1.1"/>
<line x1="239.8" y1="185.0" x2="239.8" y2="175.0" stroke="#d8d8e8" stroke-width="1.1"/>
<circle cx="240.2" cy="175.0" r="0.9" fill="#9090a8"/>
<line x1="281.5" y1="184.3" x2="281.5" y2="174.3" stroke="#5a5a80" stroke-width="1.1"/>
<line x1="280.6" y1="184.3" x2="280.6" y2="174.3" stroke="#d8d8e8" stroke-width="1.1"/>
<circle cx="281.0" cy="174.3" r="0.9" fill="#9090a8"/>
<line x1="228.7" y1="186.3" x2="228.7" y2="176.3" stroke="#5a5a80" stroke-width="1.1"/>
<line x1="227.8" y1="186.3" x2="227.8" y2="176.3" stroke="#d8d8e8" stroke-width="1.1"/>
<circle cx="228.2" cy="176.3" r="0.9" fill="#9090a8"/>
<line x1="269.5" y1="185.4" x2="269.5" y2="175.4" stroke="#5a5a80" stroke-width="1.1"/>
<line x1="268.6" y1="185.4" x2="268.6" y2="175.4" stroke="#d8d8e8" stroke-width="1.1"/>
<circle cx="269.0" cy="175.4" r="0.9" fill="#9090a8"/>
<line x1="216.7" y1="187.5" x2="216.7" y2="177.5" stroke="#5a5a80" stroke-width="1.1"/>
<line x1="215.8" y1="187.5" x2="215.8" y2="177.5" stroke="#d8d8e8" stroke-width="1.1"/>
<circle cx="216.2" cy="177.5" r="0.9" fill="#9090a8"/>
<line x1="257.5" y1="186.5" x2="257.5" y2="176.5" stroke="#5a5a80" stroke-width="1.1"/>
<line x1="256.6" y1="186.5" x2="256.6" y2="176.5" stroke="#d8d8e8" stroke-width="1.1"/>
<circle cx="257.0" cy="176.5" r="0.9" fill="#9090a8"/>
<line x1="245.5" y1="187.8" x2="245.5" y2="177.8" stroke="#5a5a80" stroke-width="1.1"/>
<line x1="244.6" y1="187.8" x2="244.6" y2="177.8" stroke="#d8d8e8" stroke-width="1.1"/>
<circle cx="245.0" cy="177.8" r="0.9" fill="#9090a8"/>
<line x1="286.4" y1="187.6" x2="286.4" y2="177.6" stroke="#5a5a80" stroke-width="1.1"/>
<line x1="285.5" y1="187.6" x2="285.5" y2="177.6" stroke="#d8d8e8" stroke-width="1.1"/>
<circle cx="285.9" cy="177.6" r="0.9" fill="#9090a8"/>
<line x1="233.5" y1="189.1" x2="233.5" y2="179.1" stroke="#5a5a80" stroke-width="1.1"/>
<line x1="232.6" y1="189.1" x2="232.6" y2="179.1" stroke="#d8d8e8" stroke-width="1.1"/>
<circle cx="233.0" cy="179.1" r="0.9" fill="#9090a8"/>
<line x1="274.4" y1="188.5" x2="274.4" y2="178.5" stroke="#5a5a80" stroke-width="1.1"/>
<line x1="273.5" y1="188.5" x2="273.5" y2="178.5" stroke="#d8d8e8" stroke-width="1.1"/>
<circle cx="273.9" cy="178.5" r="0.9" fill="#9090a8"/>
<line x1="221.5" y1="190.3" x2="221.5" y2="180.3" stroke="#5a5a80" stroke-width="1.1"/>
<line x1="220.6" y1="190.3" x2="220.6" y2="180.3" stroke="#d8d8e8" stroke-width="1.1"/>
<circle cx="221.0" cy="180.3" r="0.9" fill="#9090a8"/>
<line x1="262.4" y1="189.5" x2="262.4" y2="179.5" stroke="#5a5a80" stroke-width="1.1"/>
<line x1="261.5" y1="189.5" x2="261.5" y2="179.5" stroke="#d8d8e8" stroke-width="1.1"/>
<circle cx="261.9" cy="179.5" r="0.9" fill="#9090a8"/>
<line x1="209.6" y1="191.4" x2="209.6" y2="181.4" stroke="#5a5a80" stroke-width="1.1"/>
<line x1="208.7" y1="191.4" x2="208.7" y2="181.4" stroke="#d8d8e8" stroke-width="1.1"/>
<circle cx="209.1" cy="181.4" r="0.9" fill="#9090a8"/>
<line x1="250.4" y1="190.7" x2="250.4" y2="180.7" stroke="#5a5a80" stroke-width="1.1"/>
<line x1="249.5" y1="190.7" x2="249.5" y2="180.7" stroke="#d8d8e8" stroke-width="1.1"/>
<circle cx="249.9" cy="180.7" r="0.9" fill="#9090a8"/>
<line x1="291.2" y1="191.0" x2="291.2" y2="181.0" stroke="#5a5a80" stroke-width="1.1"/>
<line x1="290.3" y1="191.0" x2="290.3" y2="181.0" stroke="#d8d8e8" stroke-width="1.1"/>
<circle cx="290.7" cy="181.0" r="0.9" fill="#9090a8"/>
<line x1="238.4" y1="191.9" x2="238.4" y2="181.9" stroke="#5a5a80" stroke-width="1.1"/>
<line x1="237.5" y1="191.9" x2="237.5" y2="181.9" stroke="#d8d8e8" stroke-width="1.1"/>
<circle cx="237.9" cy="181.9" r="0.9" fill="#9090a8"/>
<line x1="279.2" y1="191.7" x2="279.2" y2="181.7" stroke="#5a5a80" stroke-width="1.1"/>
<line x1="278.3" y1="191.7" x2="278.3" y2="181.7" stroke="#d8d8e8" stroke-width="1.1"/>
<circle cx="278.7" cy="181.7" r="0.9" fill="#9090a8"/>
<line x1="226.4" y1="193.1" x2="226.4" y2="183.1" stroke="#5a5a80" stroke-width="1.1"/>
<line x1="225.5" y1="193.1" x2="225.5" y2="183.1" stroke="#d8d8e8" stroke-width="1.1"/>
<circle cx="225.9" cy="183.1" r="0.9" fill="#9090a8"/>
<line x1="267.2" y1="192.6" x2="267.2" y2="182.6" stroke="#5a5a80" stroke-width="1.1"/>
<line x1="266.3" y1="192.6" x2="266.3" y2="182.6" stroke="#d8d8e8" stroke-width="1.1"/>
<circle cx="266.7" cy="182.6" r="0.9" fill="#9090a8"/>
<line x1="214.4" y1="194.3" x2="214.4" y2="184.3" stroke="#5a5a80" stroke-width="1.1"/>
<line x1="213.5" y1="194.3" x2="213.5" y2="184.3" stroke="#d8d8e8" stroke-width="1.1"/>
<circle cx="213.9" cy="184.3" r="0.9" fill="#9090a8"/>
<line x1="255.3" y1="193.7" x2="255.3" y2="183.7" stroke="#5a5a80" stroke-width="1.1"/>
<line x1="254.4" y1="193.7" x2="254.4" y2="183.7" stroke="#d8d8e8" stroke-width="1.1"/>
<circle cx="254.8" cy="183.7" r="0.9" fill="#9090a8"/>
<line x1="202.4" y1="195.3" x2="202.4" y2="185.3" stroke="#5a5a80" stroke-width="1.1"/>
<line x1="201.5" y1="195.3" x2="201.5" y2="185.3" stroke="#d8d8e8" stroke-width="1.1"/>
<circle cx="201.9" cy="185.3" r="0.9" fill="#9090a8"/>
<line x1="296.1" y1="194.6" x2="296.1" y2="184.6" stroke="#5a5a80" stroke-width="1.1"/>
<line x1="295.2" y1="194.6" x2="295.2" y2="184.6" stroke="#d8d8e8" stroke-width="1.1"/>
<circle cx="295.6" cy="184.6" r="0.9" fill="#9090a8"/>
<line x1="243.3" y1="194.8" x2="243.3" y2="184.8" stroke="#5a5a80" stroke-width="1.1"/>
<line x1="242.4" y1="194.8" x2="242.4" y2="184.8" stroke="#d8d8e8" stroke-width="1.1"/>
<circle cx="242.8" cy="184.8" r="0.9" fill="#9090a8"/>
<line x1="284.1" y1="195.1" x2="284.1" y2="185.1" stroke="#5a5a80" stroke-width="1.1"/>
<line x1="283.2" y1="195.1" x2="283.2" y2="185.1" stroke="#d8d8e8" stroke-width="1.1"/>
<circle cx="283.6" cy="185.1" r="0.9" fill="#9090a8"/>
<line x1="231.3" y1="196.0" x2="231.3" y2="186.0" stroke="#5a5a80" stroke-width="1.1"/>
<line x1="230.4" y1="196.0" x2="230.4" y2="186.0" stroke="#d8d8e8" stroke-width="1.1"/>
<circle cx="230.8" cy="186.0" r="0.9" fill="#9090a8"/>
<line x1="272.1" y1="195.9" x2="272.1" y2="185.9" stroke="#5a5a80" stroke-width="1.1"/>
<line x1="271.2" y1="195.9" x2="271.2" y2="185.9" stroke="#d8d8e8" stroke-width="1.1"/>
<circle cx="271.6" cy="185.9" r="0.9" fill="#9090a8"/>
<line x1="219.3" y1="197.2" x2="219.3" y2="187.2" stroke="#5a5a80" stroke-width="1.1"/>
<line x1="218.4" y1="197.2" x2="218.4" y2="187.2" stroke="#d8d8e8" stroke-width="1.1"/>
<circle cx="218.8" cy="187.2" r="0.9" fill="#9090a8"/>
<line x1="260.1" y1="196.8" x2="260.1" y2="186.8" stroke="#5a5a80" stroke-width="1.1"/>
<line x1="259.2" y1="196.8" x2="259.2" y2="186.8" stroke="#d8d8e8" stroke-width="1.1"/>
<circle cx="259.6" cy="186.8" r="0.9" fill="#9090a8"/>
<line x1="207.3" y1="198.3" x2="207.3" y2="188.3" stroke="#5a5a80" stroke-width="1.1"/>
<line x1="206.4" y1="198.3" x2="206.4" y2="188.3" stroke="#d8d8e8" stroke-width="1.1"/>
<circle cx="206.8" cy="188.3" r="0.9" fill="#9090a8"/>
<line x1="301.0" y1="198.3" x2="301.0" y2="188.3" stroke="#5a5a80" stroke-width="1.1"/>
<line x1="300.1" y1="198.3" x2="300.1" y2="188.3" stroke="#d8d8e8" stroke-width="1.1"/>
<circle cx="300.5" cy="188.3" r="0.9" fill="#9090a8"/>
<line x1="248.1" y1="197.8" x2="248.1" y2="187.8" stroke="#5a5a80" stroke-width="1.1"/>
<line x1="247.2" y1="197.8" x2="247.2" y2="187.8" stroke="#d8d8e8" stroke-width="1.1"/>
<circle cx="247.6" cy="187.8" r="0.9" fill="#9090a8"/>
<line x1="195.3" y1="199.3" x2="195.3" y2="189.3" stroke="#5a5a80" stroke-width="1.1"/>
<line x1="194.4" y1="199.3" x2="194.4" y2="189.3" stroke="#d8d8e8" stroke-width="1.1"/>
<circle cx="194.8" cy="189.3" r="0.9" fill="#9090a8"/>
<line x1="289.0" y1="198.7" x2="289.0" y2="188.7" stroke="#5a5a80" stroke-width="1.1"/>
<line x1="288.1" y1="198.7" x2="288.1" y2="188.7" stroke="#d8d8e8" stroke-width="1.1"/>
<circle cx="288.5" cy="188.7" r="0.9" fill="#9090a8"/>
<line x1="236.1" y1="199.0" x2="236.1" y2="189.0" stroke="#5a5a80" stroke-width="1.1"/>
<line x1="235.2" y1="199.0" x2="235.2" y2="189.0" stroke="#d8d8e8" stroke-width="1.1"/>
<circle cx="235.6" cy="189.0" r="0.9" fill="#9090a8"/>
<line x1="277.0" y1="199.2" x2="277.0" y2="189.2" stroke="#5a5a80" stroke-width="1.1"/>
<line x1="276.1" y1="199.2" x2="276.1" y2="189.2" stroke="#d8d8e8" stroke-width="1.1"/>
<circle cx="276.5" cy="189.2" r="0.9" fill="#9090a8"/>
<line x1="224.1" y1="200.1" x2="224.1" y2="190.1" stroke="#5a5a80" stroke-width="1.1"/>
<line x1="223.2" y1="200.1" x2="223.2" y2="190.1" stroke="#d8d8e8" stroke-width="1.1"/>
<circle cx="223.6" cy="190.1" r="0.9" fill="#9090a8"/>
<line x1="265.0" y1="200.0" x2="265.0" y2="190.0" stroke="#5a5a80" stroke-width="1.1"/>
<line x1="264.1" y1="200.0" x2="264.1" y2="190.0" stroke="#d8d8e8" stroke-width="1.1"/>
<circle cx="264.5" cy="190.0" r="0.9" fill="#9090a8"/>
<line x1="212.1" y1="201.2" x2="212.1" y2="191.2" stroke="#5a5a80" stroke-width="1.1"/>
<line x1="211.2" y1="201.2" x2="211.2" y2="191.2" stroke="#d8d8e8" stroke-width="1.1"/>
<circle cx="211.6" cy="191.2" r="0.9" fill="#9090a8"/>
<line x1="305.8" y1="202.0" x2="305.8" y2="192.0" stroke="#5a5a80" stroke-width="1.1"/>
<line x1="304.9" y1="202.0" x2="304.9" y2="192.0" stroke="#d8d8e8" stroke-width="1.1"/>
<circle cx="305.3" cy="192.0" r="0.9" fill="#9090a8"/>
<line x1="253.0" y1="200.9" x2="253.0" y2="190.9" stroke="#5a5a80" stroke-width="1.1"/>
<line x1="252.1" y1="200.9" x2="252.1" y2="190.9" stroke="#d8d8e8" stroke-width="1.1"/>
<circle cx="252.5" cy="190.9" r="0.9" fill="#9090a8"/>
<line x1="200.1" y1="202.3" x2="200.1" y2="192.3" stroke="#5a5a80" stroke-width="1.1"/>
<line x1="199.2" y1="202.3" x2="199.2" y2="192.3" stroke="#d8d8e8" stroke-width="1.1"/>
<circle cx="199.6" cy="192.3" r="0.9" fill="#9090a8"/>
<line x1="293.8" y1="202.3" x2="293.8" y2="192.3" stroke="#5a5a80" stroke-width="1.1"/>
<line x1="292.9" y1="202.3" x2="292.9" y2="192.3" stroke="#d8d8e8" stroke-width="1.1"/>
<circle cx="293.3" cy="192.3" r="0.9" fill="#9090a8"/>
<line x1="241.0" y1="202.0" x2="241.0" y2="192.0" stroke="#5a5a80" stroke-width="1.1"/>
<line x1="240.1" y1="202.0" x2="240.1" y2="192.0" stroke="#d8d8e8" stroke-width="1.1"/>
<circle cx="240.5" cy="192.0" r="0.9" fill="#9090a8"/>
<line x1="188.1" y1="203.2" x2="188.1" y2="193.2" stroke="#5a5a80" stroke-width="1.1"/>
<line x1="187.2" y1="203.2" x2="187.2" y2="193.2" stroke="#d8d8e8" stroke-width="1.1"/>
<circle cx="187.6" cy="193.2" r="0.9" fill="#9090a8"/>
<line x1="281.8" y1="202.7" x2="281.8" y2="192.7" stroke="#5a5a80" stroke-width="1.1"/>
<line x1="280.9" y1="202.7" x2="280.9" y2="192.7" stroke="#d8d8e8" stroke-width="1.1"/>
<circle cx="281.3" cy="192.7" r="0.9" fill="#9090a8"/>
<line x1="229.0" y1="203.1" x2="229.0" y2="193.1" stroke="#5a5a80" stroke-width="1.1"/>
<line x1="228.1" y1="203.1" x2="228.1" y2="193.1" stroke="#d8d8e8" stroke-width="1.1"/>
<circle cx="228.5" cy="193.1" r="0.9" fill="#9090a8"/>
<line x1="269.8" y1="203.3" x2="269.8" y2="193.3" stroke="#5a5a80" stroke-width="1.1"/>
<line x1="268.9" y1="203.3" x2="268.9" y2="193.3" stroke="#d8d8e8" stroke-width="1.1"/>
<circle cx="269.3" cy="193.3" r="0.9" fill="#9090a8"/>
<line x1="217.0" y1="204.2" x2="217.0" y2="194.2" stroke="#5a5a80" stroke-width="1.1"/>
<line x1="216.1" y1="204.2" x2="216.1" y2="194.2" stroke="#d8d8e8" stroke-width="1.1"/>
<circle cx="216.5" cy="194.2" r="0.9" fill="#9090a8"/>
<line x1="310.7" y1="205.8" x2="310.7" y2="195.8" stroke="#5a5a80" stroke-width="1.1"/>
<line x1="309.8" y1="205.8" x2="309.8" y2="195.8" stroke="#d8d8e8" stroke-width="1.1"/>
<circle cx="310.2" cy="195.8" r="0.9" fill="#9090a8"/>
<line x1="257.8" y1="204.1" x2="257.8" y2="194.1" stroke="#5a5a80" stroke-width="1.1"/>
<line x1="256.9" y1="204.1" x2="256.9" y2="194.1" stroke="#d8d8e8" stroke-width="1.1"/>
<circle cx="257.3" cy="194.1" r="0.9" fill="#9090a8"/>
<line x1="205.0" y1="205.3" x2="205.0" y2="195.3" stroke="#5a5a80" stroke-width="1.1"/>
<line x1="204.1" y1="205.3" x2="204.1" y2="195.3" stroke="#d8d8e8" stroke-width="1.1"/>
<circle cx="204.5" cy="195.3" r="0.9" fill="#9090a8"/>
<line x1="298.7" y1="205.9" x2="298.7" y2="195.9" stroke="#5a5a80" stroke-width="1.1"/>
<line x1="297.8" y1="205.9" x2="297.8" y2="195.9" stroke="#d8d8e8" stroke-width="1.1"/>
<circle cx="298.2" cy="195.9" r="0.9" fill="#9090a8"/>
<line x1="245.8" y1="205.1" x2="245.8" y2="195.1" stroke="#5a5a80" stroke-width="1.1"/>
<line x1="244.9" y1="205.1" x2="244.9" y2="195.1" stroke="#d8d8e8" stroke-width="1.1"/>
<circle cx="245.3" cy="195.1" r="0.9" fill="#9090a8"/>
<line x1="193.0" y1="206.3" x2="193.0" y2="196.3" stroke="#5a5a80" stroke-width="1.1"/>
<line x1="192.1" y1="206.3" x2="192.1" y2="196.3" stroke="#d8d8e8" stroke-width="1.1"/>
<circle cx="192.5" cy="196.3" r="0.9" fill="#9090a8"/>
<line x1="286.7" y1="206.3" x2="286.7" y2="196.3" stroke="#5a5a80" stroke-width="1.1"/>
<line x1="285.8" y1="206.3" x2="285.8" y2="196.3" stroke="#d8d8e8" stroke-width="1.1"/>
<circle cx="286.2" cy="196.3" r="0.9" fill="#9090a8"/>
<line x1="233.8" y1="206.1" x2="233.8" y2="196.1" stroke="#5a5a80" stroke-width="1.1"/>
<line x1="232.9" y1="206.1" x2="232.9" y2="196.1" stroke="#d8d8e8" stroke-width="1.1"/>
<circle cx="233.3" cy="196.1" r="0.9" fill="#9090a8"/>
<line x1="274.7" y1="206.8" x2="274.7" y2="196.8" stroke="#5a5a80" stroke-width="1.1"/>
<line x1="273.8" y1="206.8" x2="273.8" y2="196.8" stroke="#d8d8e8" stroke-width="1.1"/>
<circle cx="274.2" cy="196.8" r="0.9" fill="#9090a8"/>
<line x1="221.8" y1="207.2" x2="221.8" y2="197.2" stroke="#5a5a80" stroke-width="1.1"/>
<line x1="220.9" y1="207.2" x2="220.9" y2="197.2" stroke="#d8d8e8" stroke-width="1.1"/>
<circle cx="221.3" cy="197.2" r="0.9" fill="#9090a8"/>
<line x1="262.7" y1="207.4" x2="262.7" y2="197.4" stroke="#5a5a80" stroke-width="1.1"/>
<line x1="261.8" y1="207.4" x2="261.8" y2="197.4" stroke="#d8d8e8" stroke-width="1.1"/>
<circle cx="262.2" cy="197.4" r="0.9" fill="#9090a8"/>
<line x1="209.8" y1="208.3" x2="209.8" y2="198.3" stroke="#5a5a80" stroke-width="1.1"/>
<line x1="208.9" y1="208.3" x2="208.9" y2="198.3" stroke="#d8d8e8" stroke-width="1.1"/>
<circle cx="209.3" cy="198.3" r="0.9" fill="#9090a8"/>
<line x1="303.5" y1="209.6" x2="303.5" y2="199.6" stroke="#5a5a80" stroke-width="1.1"/>
<line x1="302.6" y1="209.6" x2="302.6" y2="199.6" stroke="#d8d8e8" stroke-width="1.1"/>
<circle cx="303.0" cy="199.6" r="0.9" fill="#9090a8"/>
<line x1="250.7" y1="208.3" x2="250.7" y2="198.3" stroke="#5a5a80" stroke-width="1.1"/>
<line x1="249.8" y1="208.3" x2="249.8" y2="198.3" stroke="#d8d8e8" stroke-width="1.1"/>
<circle cx="250.2" cy="198.3" r="0.9" fill="#9090a8"/>
<line x1="197.8" y1="209.4" x2="197.8" y2="199.4" stroke="#5a5a80" stroke-width="1.1"/>
<line x1="196.9" y1="209.4" x2="196.9" y2="199.4" stroke="#d8d8e8" stroke-width="1.1"/>
<circle cx="197.3" cy="199.4" r="0.9" fill="#9090a8"/>
<line x1="291.5" y1="209.9" x2="291.5" y2="199.9" stroke="#5a5a80" stroke-width="1.1"/>
<line x1="290.6" y1="209.9" x2="290.6" y2="199.9" stroke="#d8d8e8" stroke-width="1.1"/>
<circle cx="291.0" cy="199.9" r="0.9" fill="#9090a8"/>
<line x1="238.7" y1="209.3" x2="238.7" y2="199.3" stroke="#5a5a80" stroke-width="1.1"/>
<line x1="237.8" y1="209.3" x2="237.8" y2="199.3" stroke="#d8d8e8" stroke-width="1.1"/>
<circle cx="238.2" cy="199.3" r="0.9" fill="#9090a8"/>
<line x1="279.5" y1="210.3" x2="279.5" y2="200.3" stroke="#5a5a80" stroke-width="1.1"/>
<line x1="278.6" y1="210.3" x2="278.6" y2="200.3" stroke="#d8d8e8" stroke-width="1.1"/>
<circle cx="279.0" cy="200.3" r="0.9" fill="#9090a8"/>
<line x1="226.7" y1="210.3" x2="226.7" y2="200.3" stroke="#5a5a80" stroke-width="1.1"/>
<line x1="225.8" y1="210.3" x2="225.8" y2="200.3" stroke="#d8d8e8" stroke-width="1.1"/>
<circle cx="226.2" cy="200.3" r="0.9" fill="#9090a8"/>
<line x1="267.5" y1="210.8" x2="267.5" y2="200.8" stroke="#5a5a80" stroke-width="1.1"/>
<line x1="266.6" y1="210.8" x2="266.6" y2="200.8" stroke="#d8d8e8" stroke-width="1.1"/>
<circle cx="267.0" cy="200.8" r="0.9" fill="#9090a8"/>
<line x1="214.7" y1="211.4" x2="214.7" y2="201.4" stroke="#5a5a80" stroke-width="1.1"/>
<line x1="213.8" y1="211.4" x2="213.8" y2="201.4" stroke="#d8d8e8" stroke-width="1.1"/>
<circle cx="214.2" cy="201.4" r="0.9" fill="#9090a8"/>
<line x1="255.5" y1="211.5" x2="255.5" y2="201.5" stroke="#5a5a80" stroke-width="1.1"/>
<line x1="254.6" y1="211.5" x2="254.6" y2="201.5" stroke="#d8d8e8" stroke-width="1.1"/>
<circle cx="255.0" cy="201.5" r="0.9" fill="#9090a8"/>
<line x1="202.7" y1="212.4" x2="202.7" y2="202.4" stroke="#5a5a80" stroke-width="1.1"/>
<line x1="201.8" y1="212.4" x2="201.8" y2="202.4" stroke="#d8d8e8" stroke-width="1.1"/>
<circle cx="202.2" cy="202.4" r="0.9" fill="#9090a8"/>
<line x1="296.4" y1="213.5" x2="296.4" y2="203.5" stroke="#5a5a80" stroke-width="1.1"/>
<line x1="295.5" y1="213.5" x2="295.5" y2="203.5" stroke="#d8d8e8" stroke-width="1.1"/>
<circle cx="295.9" cy="203.5" r="0.9" fill="#9090a8"/>
<line x1="243.5" y1="212.4" x2="243.5" y2="202.4" stroke="#5a5a80" stroke-width="1.1"/>
<line x1="242.6" y1="212.4" x2="242.6" y2="202.4" stroke="#d8d8e8" stroke-width="1.1"/>
<circle cx="243.0" cy="202.4" r="0.9" fill="#9090a8"/>
<line x1="284.4" y1="213.8" x2="284.4" y2="203.8" stroke="#5a5a80" stroke-width="1.1"/>
<line x1="283.5" y1="213.8" x2="283.5" y2="203.8" stroke="#d8d8e8" stroke-width="1.1"/>
<circle cx="283.9" cy="203.8" r="0.9" fill="#9090a8"/>
<line x1="231.5" y1="213.4" x2="231.5" y2="203.4" stroke="#5a5a80" stroke-width="1.1"/>
<line x1="230.7" y1="213.4" x2="230.7" y2="203.4" stroke="#d8d8e8" stroke-width="1.1"/>
<circle cx="231.0" cy="203.4" r="0.9" fill="#9090a8"/>
<line x1="272.4" y1="214.3" x2="272.4" y2="204.3" stroke="#5a5a80" stroke-width="1.1"/>
<line x1="271.5" y1="214.3" x2="271.5" y2="204.3" stroke="#d8d8e8" stroke-width="1.1"/>
<circle cx="271.9" cy="204.3" r="0.9" fill="#9090a8"/>
<line x1="219.6" y1="214.5" x2="219.6" y2="204.5" stroke="#5a5a80" stroke-width="1.1"/>
<line x1="218.7" y1="214.5" x2="218.7" y2="204.5" stroke="#d8d8e8" stroke-width="1.1"/>
<circle cx="219.1" cy="204.5" r="0.9" fill="#9090a8"/>
<line x1="260.4" y1="214.9" x2="260.4" y2="204.9" stroke="#5a5a80" stroke-width="1.1"/>
<line x1="259.5" y1="214.9" x2="259.5" y2="204.9" stroke="#d8d8e8" stroke-width="1.1"/>
<circle cx="259.9" cy="204.9" r="0.9" fill="#9090a8"/>
<line x1="207.6" y1="215.5" x2="207.6" y2="205.5" stroke="#5a5a80" stroke-width="1.1"/>
<line x1="206.7" y1="215.5" x2="206.7" y2="205.5" stroke="#d8d8e8" stroke-width="1.1"/>
<circle cx="207.1" cy="205.5" r="0.9" fill="#9090a8"/>
<line x1="248.4" y1="215.6" x2="248.4" y2="205.6" stroke="#5a5a80" stroke-width="1.1"/>
<line x1="247.5" y1="215.6" x2="247.5" y2="205.6" stroke="#d8d8e8" stroke-width="1.1"/>
<circle cx="247.9" cy="205.6" r="0.9" fill="#9090a8"/>
<line x1="289.2" y1="217.3" x2="289.2" y2="207.3" stroke="#5a5a80" stroke-width="1.1"/>
<line x1="288.3" y1="217.3" x2="288.3" y2="207.3" stroke="#d8d8e8" stroke-width="1.1"/>
<circle cx="288.7" cy="207.3" r="0.9" fill="#9090a8"/>
<line x1="236.4" y1="216.6" x2="236.4" y2="206.6" stroke="#5a5a80" stroke-width="1.1"/>
<line x1="235.5" y1="216.6" x2="235.5" y2="206.6" stroke="#d8d8e8" stroke-width="1.1"/>
<circle cx="235.9" cy="206.6" r="0.9" fill="#9090a8"/>
<line x1="277.3" y1="217.7" x2="277.3" y2="207.7" stroke="#5a5a80" stroke-width="1.1"/>
<line x1="276.4" y1="217.7" x2="276.4" y2="207.7" stroke="#d8d8e8" stroke-width="1.1"/>
<circle cx="276.8" cy="207.7" r="0.9" fill="#9090a8"/>
<line x1="224.4" y1="217.6" x2="224.4" y2="207.6" stroke="#5a5a80" stroke-width="1.1"/>
<line x1="223.5" y1="217.6" x2="223.5" y2="207.6" stroke="#d8d8e8" stroke-width="1.1"/>
<circle cx="223.9" cy="207.6" r="0.9" fill="#9090a8"/>
<line x1="265.3" y1="218.2" x2="265.3" y2="208.2" stroke="#5a5a80" stroke-width="1.1"/>
<line x1="264.4" y1="218.2" x2="264.4" y2="208.2" stroke="#d8d8e8" stroke-width="1.1"/>
<circle cx="264.8" cy="208.2" r="0.9" fill="#9090a8"/>
<line x1="212.4" y1="218.6" x2="212.4" y2="208.6" stroke="#5a5a80" stroke-width="1.1"/>
<line x1="211.5" y1="218.6" x2="211.5" y2="208.6" stroke="#d8d8e8" stroke-width="1.1"/>
<circle cx="211.9" cy="208.6" r="0.9" fill="#9090a8"/>
<line x1="253.3" y1="218.9" x2="253.3" y2="208.9" stroke="#5a5a80" stroke-width="1.1"/>
<line x1="252.4" y1="218.9" x2="252.4" y2="208.9" stroke="#d8d8e8" stroke-width="1.1"/>
<circle cx="252.8" cy="208.9" r="0.9" fill="#9090a8"/>
<line x1="241.3" y1="219.8" x2="241.3" y2="209.8" stroke="#5a5a80" stroke-width="1.1"/>
<line x1="240.4" y1="219.8" x2="240.4" y2="209.8" stroke="#d8d8e8" stroke-width="1.1"/>
<circle cx="240.8" cy="209.8" r="0.9" fill="#9090a8"/>
<line x1="282.1" y1="221.2" x2="282.1" y2="211.2" stroke="#5a5a80" stroke-width="1.1"/>
<line x1="281.2" y1="221.2" x2="281.2" y2="211.2" stroke="#d8d8e8" stroke-width="1.1"/>
<circle cx="281.6" cy="211.2" r="0.9" fill="#9090a8"/>
<line x1="229.3" y1="220.7" x2="229.3" y2="210.7" stroke="#5a5a80" stroke-width="1.1"/>
<line x1="228.4" y1="220.7" x2="228.4" y2="210.7" stroke="#d8d8e8" stroke-width="1.1"/>
<circle cx="228.8" cy="210.7" r="0.9" fill="#9090a8"/>
<line x1="270.1" y1="221.6" x2="270.1" y2="211.6" stroke="#5a5a80" stroke-width="1.1"/>
<line x1="269.2" y1="221.6" x2="269.2" y2="211.6" stroke="#d8d8e8" stroke-width="1.1"/>
<circle cx="269.6" cy="211.6" r="0.9" fill="#9090a8"/>
<line x1="217.3" y1="221.7" x2="217.3" y2="211.7" stroke="#5a5a80" stroke-width="1.1"/>
<line x1="216.4" y1="221.7" x2="216.4" y2="211.7" stroke="#d8d8e8" stroke-width="1.1"/>
<circle cx="216.8" cy="211.7" r="0.9" fill="#9090a8"/>
<line x1="258.1" y1="222.2" x2="258.1" y2="212.2" stroke="#5a5a80" stroke-width="1.1"/>
<line x1="257.2" y1="222.2" x2="257.2" y2="212.2" stroke="#d8d8e8" stroke-width="1.1"/>
<circle cx="257.6" cy="212.2" r="0.9" fill="#9090a8"/>
<line x1="246.1" y1="223.0" x2="246.1" y2="213.0" stroke="#5a5a80" stroke-width="1.1"/>
<line x1="245.2" y1="223.0" x2="245.2" y2="213.0" stroke="#d8d8e8" stroke-width="1.1"/>
<circle cx="245.6" cy="213.0" r="0.9" fill="#9090a8"/>
<line x1="234.1" y1="223.9" x2="234.1" y2="213.9" stroke="#5a5a80" stroke-width="1.1"/>
<line x1="233.2" y1="223.9" x2="233.2" y2="213.9" stroke="#d8d8e8" stroke-width="1.1"/>
<circle cx="233.6" cy="213.9" r="0.9" fill="#9090a8"/>
<line x1="275.0" y1="225.1" x2="275.0" y2="215.1" stroke="#5a5a80" stroke-width="1.1"/>
<line x1="274.1" y1="225.1" x2="274.1" y2="215.1" stroke="#d8d8e8" stroke-width="1.1"/>
<circle cx="274.5" cy="215.1" r="0.9" fill="#9090a8"/>
<line x1="222.1" y1="224.8" x2="222.1" y2="214.8" stroke="#5a5a80" stroke-width="1.1"/>
<line x1="221.2" y1="224.8" x2="221.2" y2="214.8" stroke="#d8d8e8" stroke-width="1.1"/>
<circle cx="221.6" cy="214.8" r="0.9" fill="#9090a8"/>
<line x1="263.0" y1="225.6" x2="263.0" y2="215.6" stroke="#5a5a80" stroke-width="1.1"/>
<line x1="262.1" y1="225.6" x2="262.1" y2="215.6" stroke="#d8d8e8" stroke-width="1.1"/>
<circle cx="262.5" cy="215.6" r="0.9" fill="#9090a8"/>
<line x1="251.0" y1="226.2" x2="251.0" y2="216.2" stroke="#5a5a80" stroke-width="1.1"/>
<line x1="250.1" y1="226.2" x2="250.1" y2="216.2" stroke="#d8d8e8" stroke-width="1.1"/>
<circle cx="250.5" cy="216.2" r="0.9" fill="#9090a8"/>
<line x1="239.0" y1="227.0" x2="239.0" y2="217.0" stroke="#5a5a80" stroke-width="1.1"/>
<line x1="238.1" y1="227.0" x2="238.1" y2="217.0" stroke="#d8d8e8" stroke-width="1.1"/>
<circle cx="238.5" cy="217.0" r="0.9" fill="#9090a8"/>
<line x1="227.0" y1="228.0" x2="227.0" y2="218.0" stroke="#5a5a80" stroke-width="1.1"/>
<line x1="226.1" y1="228.0" x2="226.1" y2="218.0" stroke="#d8d8e8" stroke-width="1.1"/>
<circle cx="226.5" cy="218.0" r="0.9" fill="#9090a8"/>
<line x1="267.8" y1="228.9" x2="267.8" y2="218.9" stroke="#5a5a80" stroke-width="1.1"/>
<line x1="266.9" y1="228.9" x2="266.9" y2="218.9" stroke="#d8d8e8" stroke-width="1.1"/>
<circle cx="267.3" cy="218.9" r="0.9" fill="#9090a8"/>
<line x1="255.8" y1="229.5" x2="255.8" y2="219.5" stroke="#5a5a80" stroke-width="1.1"/>
<line x1="254.9" y1="229.5" x2="254.9" y2="219.5" stroke="#d8d8e8" stroke-width="1.1"/>
<circle cx="255.3" cy="219.5" r="0.9" fill="#9090a8"/>
<line x1="243.8" y1="230.2" x2="243.8" y2="220.2" stroke="#5a5a80" stroke-width="1.1"/>
<line x1="242.9" y1="230.2" x2="242.9" y2="220.2" stroke="#d8d8e8" stroke-width="1.1"/>
<circle cx="243.3" cy="220.2" r="0.9" fill="#9090a8"/>
<line x1="231.8" y1="231.1" x2="231.8" y2="221.1" stroke="#5a5a80" stroke-width="1.1"/>
<line x1="230.9" y1="231.1" x2="230.9" y2="221.1" stroke="#d8d8e8" stroke-width="1.1"/>
<circle cx="231.3" cy="221.1" r="0.9" fill="#9090a8"/>
<line x1="260.7" y1="232.8" x2="260.7" y2="222.8" stroke="#5a5a80" stroke-width="1.1"/>
<line x1="259.8" y1="232.8" x2="259.8" y2="222.8" stroke="#d8d8e8" stroke-width="1.1"/>
<circle cx="260.2" cy="222.8" r="0.9" fill="#9090a8"/>
<line x1="248.7" y1="233.4" x2="248.7" y2="223.4" stroke="#5a5a80" stroke-width="1.1"/>
<line x1="247.8" y1="233.4" x2="247.8" y2="223.4" stroke="#d8d8e8" stroke-width="1.1"/>
<circle cx="248.2" cy="223.4" r="0.9" fill="#9090a8"/>
<line x1="236.7" y1="234.2" x2="236.7" y2="224.2" stroke="#5a5a80" stroke-width="1.1"/>
<line x1="235.8" y1="234.2" x2="235.8" y2="224.2" stroke="#d8d8e8" stroke-width="1.1"/>
<circle cx="236.2" cy="224.2" r="0.9" fill="#9090a8"/>
<line x1="253.5" y1="236.6" x2="253.5" y2="226.6" stroke="#5a5a80" stroke-width="1.1"/>
<line x1="252.7" y1="236.6" x2="252.7" y2="226.6" stroke="#d8d8e8" stroke-width="1.1"/>
<circle cx="253.0" cy="226.6" r="0.9" fill="#9090a8"/>
<line x1="241.6" y1="237.3" x2="241.6" y2="227.3" stroke="#5a5a80" stroke-width="1.1"/>
<line x1="240.7" y1="237.3" x2="240.7" y2="227.3" stroke="#d8d8e8" stroke-width="1.1"/>
<circle cx="241.1" cy="227.3" r="0.9" fill="#9090a8"/>
<line x1="246.4" y1="240.5" x2="246.4" y2="230.5" stroke="#5a5a80" stroke-width="1.1"/>
<line x1="245.5" y1="240.5" x2="245.5" y2="230.5" stroke="#d8d8e8" stroke-width="1.1"/>
<circle cx="245.9" cy="230.5" r="0.9" fill="#9090a8"/>
<defs><linearGradient id="filmg" x1="0" y1="0" x2="1" y2="0.3"><stop offset="0" stop-color="#cfd2c6"/><stop offset="0.35" stop-color="#dadbd0"/><stop offset="1" stop-color="#d8d8ce"/></linearGradient></defs>
<rect x="15" y="160.5" width="119" height="91" fill="#2e7a56"/>
<path d="M24,171 L30,168.8 L60,168.5 L90,169 L96.9,169.6 L99.2,180 L99.6,184 L101.4,189.4 L98.9,197 L98.7,210 L98.9,218.7 L101.4,223 L99.6,230.5 L70,230.8 L40,231 L26,231.2 L24.5,226 L24.8,212 L23.3,205 L24.8,195 L25.8,182 Z" fill="url(#filmg)"/>
<rect x="59" y="241" width="70" height="3.6" fill="#fafafa"/>
<text x="19.5" y="178.0" font-family="'Liberation Sans', Arial, sans-serif" font-size="16" fill="#eefaf4" stroke="#eefaf4" stroke-width="0.3">(h)</text>
<text x="3.3" y="305.8" font-family="'Liberation Sans', Arial, sans-serif" font-size="16" fill="#1c1c1c" stroke="#1c1c1c" stroke-width="0.3">(i)</text>
<rect x="67.6" y="297" width="229.7" height="171.8" fill="none" stroke="#3a3a3a" stroke-width="1.3"/>
<line x1="67.6" y1="468.8" x2="71.6" y2="468.8" stroke="#3a3a3a" stroke-width="1.1"/>
<text x="63" y="473.0" font-family="'Liberation Sans', Arial, sans-serif" font-size="12" fill="#222" text-anchor="end">0</text>
<line x1="67.6" y1="437.5" x2="71.6" y2="437.5" stroke="#3a3a3a" stroke-width="1.1"/>
<text x="63" y="441.7" font-family="'Liberation Sans', Arial, sans-serif" font-size="12" fill="#222" text-anchor="end">0.2</text>
<line x1="67.6" y1="406.3" x2="71.6" y2="406.3" stroke="#3a3a3a" stroke-width="1.1"/>
<text x="63" y="410.5" font-family="'Liberation Sans', Arial, sans-serif" font-size="12" fill="#222" text-anchor="end">0.4</text>
<line x1="67.6" y1="375.0" x2="71.6" y2="375.0" stroke="#3a3a3a" stroke-width="1.1"/>
<text x="63" y="379.2" font-family="'Liberation Sans', Arial, sans-serif" font-size="12" fill="#222" text-anchor="end">0.6</text>
<line x1="67.6" y1="343.8" x2="71.6" y2="343.8" stroke="#3a3a3a" stroke-width="1.1"/>
<text x="63" y="348.0" font-family="'Liberation Sans', Arial, sans-serif" font-size="12" fill="#222" text-anchor="end">0.8</text>
<line x1="67.6" y1="312.5" x2="71.6" y2="312.5" stroke="#3a3a3a" stroke-width="1.1"/>
<text x="63" y="316.7" font-family="'Liberation Sans', Arial, sans-serif" font-size="12" fill="#222" text-anchor="end">1.0</text>
<text x="67.6" y="484" font-family="'Liberation Sans', Arial, sans-serif" font-size="12" fill="#222" text-anchor="middle">0</text>
<line x1="125.0" y1="463.8" x2="125.0" y2="468.8" stroke="#3a3a3a" stroke-width="1.2"/>
<text x="125.0" y="484" font-family="'Liberation Sans', Arial, sans-serif" font-size="12" fill="#222" text-anchor="middle">100</text>
<line x1="182.4" y1="463.8" x2="182.4" y2="468.8" stroke="#3a3a3a" stroke-width="1.2"/>
<text x="182.4" y="484" font-family="'Liberation Sans', Arial, sans-serif" font-size="12" fill="#222" text-anchor="middle">200</text>
<line x1="239.8" y1="463.8" x2="239.8" y2="468.8" stroke="#3a3a3a" stroke-width="1.2"/>
<text x="239.8" y="484" font-family="'Liberation Sans', Arial, sans-serif" font-size="12" fill="#222" text-anchor="middle">300</text>
<text x="297.2" y="484" font-family="'Liberation Sans', Arial, sans-serif" font-size="12" fill="#222" text-anchor="middle">400</text>
<text x="182" y="499" font-family="'Liberation Sans', Arial, sans-serif" font-size="12" fill="#222" text-anchor="middle">Time (min)</text>
<text x="0" y="0" font-family="'Liberation Sans', Arial, sans-serif" font-size="12.5" fill="#222" transform="translate(42.6,398) rotate(-90)">C/C<tspan font-size="9.5" dy="3">0</tspan></text>
<polyline points="67.6,312.5 100.9,312.5 134.6,314.0 168.5,315.4 203.7,315.4 237.9,316.6 271.6,317.8" fill="none" stroke="#5f86bc" stroke-width="1.25"/><circle cx="67.6" cy="312.5" r="3.1" fill="#4e79b2"/><circle cx="100.9" cy="312.5" r="3.1" fill="#4e79b2"/><circle cx="134.6" cy="314.0" r="3.1" fill="#4e79b2"/><circle cx="168.5" cy="315.4" r="3.1" fill="#4e79b2"/><circle cx="203.7" cy="315.4" r="3.1" fill="#4e79b2"/><circle cx="237.9" cy="316.6" r="3.1" fill="#4e79b2"/><circle cx="271.6" cy="317.8" r="3.1" fill="#4e79b2"/>
<polyline points="67.6,312.5 100.9,337.8 134.6,357.5 168.5,374.2 203.7,390.0 237.9,404.1 271.6,414.8" fill="none" stroke="#b4444e" stroke-width="1.25"/><circle cx="67.6" cy="312.5" r="3.1" fill="#b23e4a"/><circle cx="100.9" cy="337.8" r="3.1" fill="#b23e4a"/><circle cx="134.6" cy="357.5" r="3.1" fill="#b23e4a"/><circle cx="168.5" cy="374.2" r="3.1" fill="#b23e4a"/><circle cx="203.7" cy="390.0" r="3.1" fill="#b23e4a"/><circle cx="237.9" cy="404.1" r="3.1" fill="#b23e4a"/><circle cx="271.6" cy="414.8" r="3.1" fill="#b23e4a"/>
<polyline points="67.6,312.5 100.9,357.5 134.6,389.0 168.5,411.1 203.7,429.8 237.9,441.0 271.6,451.0" fill="none" stroke="#a6bd6c" stroke-width="1.25"/><circle cx="67.6" cy="312.5" r="3.1" fill="#9fb75e"/><circle cx="100.9" cy="357.5" r="3.1" fill="#9fb75e"/><circle cx="134.6" cy="389.0" r="3.1" fill="#9fb75e"/><circle cx="168.5" cy="411.1" r="3.1" fill="#9fb75e"/><circle cx="203.7" cy="429.8" r="3.1" fill="#9fb75e"/><circle cx="237.9" cy="441.0" r="3.1" fill="#9fb75e"/><circle cx="271.6" cy="451.0" r="3.1" fill="#9fb75e"/>
<line x1="72.3" y1="422.5" x2="92" y2="422.5" stroke="#5a86c0" stroke-width="1.4"/><circle cx="82.2" cy="422.5" r="3.1" fill="#4f7bb8"/>
<text x="94.4" y="426.8" font-family="'Liberation Sans', Arial, sans-serif" font-size="11.8" font-weight="bold" fill="#111">Without ZP film</text>
<line x1="72.3" y1="440" x2="92" y2="440" stroke="#b8454c" stroke-width="1.4"/><circle cx="82.2" cy="440" r="3.1" fill="#b8404a"/>
<text x="94.4" y="444.3" font-family="'Liberation Sans', Arial, sans-serif" font-size="11.8" font-weight="bold" fill="#111">Float ZP film</text>
<line x1="72.3" y1="457" x2="92" y2="457" stroke="#a3bb6a" stroke-width="1.4"/><circle cx="82.2" cy="457" r="3.1" fill="#9db55c"/>
<text x="94.4" y="461.3" font-family="'Liberation Sans', Arial, sans-serif" font-size="11.8" font-weight="bold" fill="#111">Mixer ZP film</text>
<text x="359.5" y="305.5" font-family="'Liberation Sans', Arial, sans-serif" font-size="16" fill="#1c1c1c" stroke="#1c1c1c" stroke-width="0.3">(j)</text>
<path d="M330.2,413.4 Q355,424 377,438.3 L429,412.5 L426.5,419.5 L375.4,447.5 Q352,430 332,421 Z" fill="#6c6cc6"/>
<path d="M330.2,413.4 Q352,392 381,384.8 Q408,391 429,412.5 L377,438.3 Q355,424 330.2,413.4 Z" fill="#4a4aac"/>
<path d="M381.3,389.9 L381.7,383.9 Q381.8,380.6 384.1,381.1" fill="none" stroke="#7c7c8c" stroke-width="2.2" stroke-linecap="round"/>
<path d="M381.3,389.9 L381.7,383.9 Q381.8,380.6 384.1,381.1" fill="none" stroke="#cfcfd6" stroke-width="1" stroke-linecap="round"/>
<path d="M392.5,395.2 L392.2,391.0 Q392.1,388.7 390.3,389.0" fill="none" stroke="#7c7c8c" stroke-width="2.2" stroke-linecap="round"/>
<path d="M392.5,395.2 L392.2,391.0 Q392.1,388.7 390.3,389.0" fill="none" stroke="#cfcfd6" stroke-width="1" stroke-linecap="round"/>
<path d="M370.1,395.7 L370.5,389.5 Q370.6,386.2 372.3,386.7" fill="none" stroke="#7c7c8c" stroke-width="2.2" stroke-linecap="round"/>
<path d="M370.1,395.7 L370.5,389.5 Q370.6,386.2 372.3,386.7" fill="none" stroke="#cfcfd6" stroke-width="1" stroke-linecap="round"/>
<path d="M401.0,400.9 L400.7,396.1 Q400.6,393.6 398.8,394.0" fill="none" stroke="#7c7c8c" stroke-width="2.2" stroke-linecap="round"/>
<path d="M401.0,400.9 L400.7,396.1 Q400.6,393.6 398.8,394.0" fill="none" stroke="#cfcfd6" stroke-width="1" stroke-linecap="round"/>
<path d="M360.4,401.0 L360.8,393.6 Q360.9,389.7 363.2,390.3" fill="none" stroke="#7c7c8c" stroke-width="2.2" stroke-linecap="round"/>
<path d="M360.4,401.0 L360.8,393.6 Q360.9,389.7 363.2,390.3" fill="none" stroke="#cfcfd6" stroke-width="1" stroke-linecap="round"/>
<path d="M381.5,401.9 L381.8,397.3 Q381.9,394.9 383.7,395.2" fill="none" stroke="#7c7c8c" stroke-width="2.2" stroke-linecap="round"/>
<path d="M381.5,401.9 L381.8,397.3 Q381.9,394.9 383.7,395.2" fill="none" stroke="#cfcfd6" stroke-width="1" stroke-linecap="round"/>
<path d="M349.6,406.0 L349.9,399.0 Q350.0,395.2 351.8,395.7" fill="none" stroke="#7c7c8c" stroke-width="2.2" stroke-linecap="round"/>
<path d="M349.6,406.0 L349.9,399.0 Q350.0,395.2 351.8,395.7" fill="none" stroke="#cfcfd6" stroke-width="1" stroke-linecap="round"/>
<path d="M368.8,406.0 L368.5,402.0 Q368.4,399.8 366.6,400.1" fill="none" stroke="#7c7c8c" stroke-width="2.2" stroke-linecap="round"/>
<path d="M368.8,406.0 L368.5,402.0 Q368.4,399.8 366.6,400.1" fill="none" stroke="#cfcfd6" stroke-width="1" stroke-linecap="round"/>
<path d="M411.1,406.2 L411.5,400.4 Q411.6,397.4 413.9,397.8" fill="none" stroke="#7c7c8c" stroke-width="2.2" stroke-linecap="round"/>
<path d="M411.1,406.2 L411.5,400.4 Q411.6,397.4 413.9,397.8" fill="none" stroke="#cfcfd6" stroke-width="1" stroke-linecap="round"/>
<path d="M390.2,406.9 L389.9,401.7 Q389.8,398.8 388.0,399.2" fill="none" stroke="#7c7c8c" stroke-width="2.2" stroke-linecap="round"/>
<path d="M390.2,406.9 L389.9,401.7 Q389.8,398.8 388.0,399.2" fill="none" stroke="#cfcfd6" stroke-width="1" stroke-linecap="round"/>
<path d="M422.0,410.9 L422.4,406.9 Q422.5,404.7 424.8,405.0" fill="none" stroke="#7c7c8c" stroke-width="2.2" stroke-linecap="round"/>
<path d="M422.0,410.9 L422.4,406.9 Q422.5,404.7 424.8,405.0" fill="none" stroke="#cfcfd6" stroke-width="1" stroke-linecap="round"/>
<path d="M378.5,411.1 L378.9,406.0 Q379.0,403.2 380.7,403.6" fill="none" stroke="#7c7c8c" stroke-width="2.2" stroke-linecap="round"/>
<path d="M378.5,411.1 L378.9,406.0 Q379.0,403.2 380.7,403.6" fill="none" stroke="#cfcfd6" stroke-width="1" stroke-linecap="round"/>
<path d="M401.0,411.5 L400.7,407.0 Q400.5,404.6 398.8,405.0" fill="none" stroke="#7c7c8c" stroke-width="2.2" stroke-linecap="round"/>
<path d="M401.0,411.5 L400.7,407.0 Q400.5,404.6 398.8,405.0" fill="none" stroke="#cfcfd6" stroke-width="1" stroke-linecap="round"/>
<path d="M337.4,411.7 L337.1,404.2 Q337.0,400.1 335.2,400.7" fill="none" stroke="#7c7c8c" stroke-width="2.2" stroke-linecap="round"/>
<path d="M337.4,411.7 L337.1,404.2 Q337.0,400.1 335.2,400.7" fill="none" stroke="#cfcfd6" stroke-width="1" stroke-linecap="round"/>
<path d="M358.5,412.8 L358.9,408.9 Q359.0,406.7 360.7,407.1" fill="none" stroke="#7c7c8c" stroke-width="2.2" stroke-linecap="round"/>
<path d="M358.5,412.8 L358.9,408.9 Q359.0,406.7 360.7,407.1" fill="none" stroke="#cfcfd6" stroke-width="1" stroke-linecap="round"/>
<path d="M387.9,416.6 L387.6,412.0 Q387.5,409.5 385.7,409.9" fill="none" stroke="#7c7c8c" stroke-width="2.2" stroke-linecap="round"/>
<path d="M387.9,416.6 L387.6,412.0 Q387.5,409.5 385.7,409.9" fill="none" stroke="#cfcfd6" stroke-width="1" stroke-linecap="round"/>
<path d="M346.3,416.9 L346.7,412.1 Q346.8,409.5 349.1,409.8" fill="none" stroke="#7c7c8c" stroke-width="2.2" stroke-linecap="round"/>
<path d="M346.3,416.9 L346.7,412.1 Q346.8,409.5 349.1,409.8" fill="none" stroke="#cfcfd6" stroke-width="1" stroke-linecap="round"/>
<path d="M369.5,417.1 L369.1,411.7 Q368.9,408.7 366.7,409.2" fill="none" stroke="#7c7c8c" stroke-width="2.2" stroke-linecap="round"/>
<path d="M369.5,417.1 L369.1,411.7 Q368.9,408.7 366.7,409.2" fill="none" stroke="#cfcfd6" stroke-width="1" stroke-linecap="round"/>
<path d="M410.2,417.7 L409.8,412.3 Q409.6,409.5 407.4,409.9" fill="none" stroke="#7c7c8c" stroke-width="2.2" stroke-linecap="round"/>
<path d="M410.2,417.7 L409.8,412.3 Q409.6,409.5 407.4,409.9" fill="none" stroke="#cfcfd6" stroke-width="1" stroke-linecap="round"/>
<path d="M378.2,421.9 L377.9,417.3 Q377.8,414.7 376.0,415.1" fill="none" stroke="#7c7c8c" stroke-width="2.2" stroke-linecap="round"/>
<path d="M378.2,421.9 L377.9,417.3 Q377.8,414.7 376.0,415.1" fill="none" stroke="#cfcfd6" stroke-width="1" stroke-linecap="round"/>
<path d="M358.7,422.2 L358.3,418.1 Q358.2,415.9 356.5,416.2" fill="none" stroke="#7c7c8c" stroke-width="2.2" stroke-linecap="round"/>
<path d="M358.7,422.2 L358.3,418.1 Q358.2,415.9 356.5,416.2" fill="none" stroke="#cfcfd6" stroke-width="1" stroke-linecap="round"/>
<path d="M398.2,422.7 L397.8,418.0 Q397.7,415.5 396.0,415.8" fill="none" stroke="#7c7c8c" stroke-width="2.2" stroke-linecap="round"/>
<path d="M398.2,422.7 L397.8,418.0 Q397.7,415.5 396.0,415.8" fill="none" stroke="#cfcfd6" stroke-width="1" stroke-linecap="round"/>
<path d="M367.3,428.1 L367.6,422.5 Q367.8,419.5 369.5,419.9" fill="none" stroke="#7c7c8c" stroke-width="2.2" stroke-linecap="round"/>
<path d="M367.3,428.1 L367.6,422.5 Q367.8,419.5 369.5,419.9" fill="none" stroke="#cfcfd6" stroke-width="1" stroke-linecap="round"/>
<path d="M388.6,428.5 L388.3,422.9 Q388.2,419.9 386.4,420.3" fill="none" stroke="#7c7c8c" stroke-width="2.2" stroke-linecap="round"/>
<path d="M388.6,428.5 L388.3,422.9 Q388.2,419.9 386.4,420.3" fill="none" stroke="#cfcfd6" stroke-width="1" stroke-linecap="round"/>
<path d="M376.4,433.3 L376.7,428.0 Q376.9,425.2 378.6,425.6" fill="none" stroke="#7c7c8c" stroke-width="2.2" stroke-linecap="round"/>
<path d="M376.4,433.3 L376.7,428.0 Q376.9,425.2 378.6,425.6" fill="none" stroke="#cfcfd6" stroke-width="1" stroke-linecap="round"/>
<rect x="446.5" y="294.7" width="199.5" height="206" fill="none" stroke="#eac886" stroke-width="1.5" stroke-dasharray="4 4"/>
<path d="M399.6,385.9 L446.5,294.7 M393,407 L446.5,500.7" fill="none" stroke="#eac886" stroke-width="1.5" stroke-dasharray="4 4"/>
<path d="M382,394 L397.8,391 L397.8,407 L383,409 Z" fill="none" stroke="#eac886" stroke-width="1.1" stroke-dasharray="2.5 2"/>
<path d="M449.7,327 L449.7,361.6 L609.6,361.6 L609.6,327" fill="none" stroke="#555" stroke-width="0.9" stroke-dasharray="1.2 1.8"/>
<text x="566" y="356.5" font-family="'Liberation Sans', Arial, sans-serif" font-size="11" font-weight="bold" fill="#111">PDMS</text>
<defs><linearGradient id="hvg" x1="0" y1="0" x2="0" y2="1"><stop offset="0" stop-color="#c04040"/><stop offset="0.55" stop-color="#8c9a50"/><stop offset="1" stop-color="#3c9aa8"/></linearGradient><linearGradient id="yb" x1="0" y1="0" x2="0" y2="1"><stop offset="0" stop-color="#f3e6c4"/><stop offset="0.35" stop-color="#eabf6c"/><stop offset="1" stop-color="#e6a434"/></linearGradient><linearGradient id="rb" x1="0" y1="0" x2="0" y2="1"><stop offset="0" stop-color="#f4cdd0"/><stop offset="0.28" stop-color="#dc5458"/><stop offset="1" stop-color="#c82424"/></linearGradient></defs>
<path d="M472.3,298.3 C469.6,302.1 463.1,303.2 465.6,307.8 C468.2,312.5 474.5,306.2 477.1,310.9 C479.0,314.5 471.7,315.6 473.6,319.2 C475.5,322.6 479.4,319.8 481.3,323.2 C482.7,325.8 478.2,327.0 479.6,329.6 C481.3,332.8 485.7,328.4 487.4,331.6 C488.6,333.8 484.0,334.4 485.2,336.6 C486.6,339.2 489.8,336.4 491.2,339 C492.2,340.8 488.6,341.4 489.6,343.2 C490.8,345.4 493.4,343.6 494.6,345.8 C495.4,347.2 492.8,347.8 493.6,349.2 C494.6,351.1 496.2,350.3 497.2,352.2" fill="none" stroke="url(#hvg)" stroke-width="1.5" stroke-linecap="round"/>
<text x="487" y="308.5" font-family="'Liberation Sans', Arial, sans-serif" font-size="11" font-weight="bold" font-style="italic" fill="#c03a3a">hv</text>
<path d="M506.3,334 Q506,400 579,462" fill="none" stroke="url(#yb)" stroke-width="5.8"/>
<path d="M537,334 Q542,400 598,439.5" fill="none" stroke="url(#rb)" stroke-width="5.8"/>
<path d="M596.7,441 L580.5,462" fill="none" stroke="#444" stroke-width="0.8"/>
<line x1="506.8" y1="335.1" x2="537.2" y2="335.1" stroke="#333" stroke-width="1"/>
<line x1="508.8" y1="347.1" x2="540.6" y2="347.1" stroke="#222" stroke-width="1"/>
<line x1="508.8" y1="357" x2="542" y2="357" stroke="#444" stroke-width="0.9" stroke-dasharray="1.2 1.5"/>
<line x1="509.5" y1="375.5" x2="542" y2="375.5" stroke="#222" stroke-width="1"/>
<line x1="517.5" y1="375.5" x2="517.5" y2="350" stroke="#222" stroke-width="0.9"/><polygon points="517.5,347.5 515.5,352 519.5,352" fill="#111"/>
<line x1="525.4" y1="375.5" x2="525.4" y2="350" stroke="#222" stroke-width="0.9"/><polygon points="525.4,347.5 523.4,352 527.4,352" fill="#111"/>
<line x1="532.6" y1="375.5" x2="532.6" y2="350" stroke="#222" stroke-width="0.9"/><polygon points="532.6,347.5 530.6,352 534.6,352" fill="#111"/>
<line x1="524" y1="343.3" x2="531" y2="343.3" stroke="#222" stroke-width="0.9"/><polygon points="534,343.3 530.5,341.4 530.5,345.2" fill="#111"/>
<line x1="526.8" y1="380.6" x2="520.5" y2="380.6" stroke="#222" stroke-width="0.9"/><polygon points="517.8,380.6 521.3,378.7 521.3,382.5" fill="#111"/>
<circle cx="515" cy="342.7" r="2.2" fill="#fbeef0" stroke="#e0909a" stroke-width="0.9"/>
<circle cx="533.7" cy="379.4" r="2.4" fill="#fbf2e8" stroke="#d8b090" stroke-width="0.9"/>
<text x="542.5" y="350.8" font-family="'Liberation Sans', Arial, sans-serif" font-size="10.5" font-weight="bold" fill="#111">E<tspan font-size="8" dy="2">C</tspan></text>
<text x="542.5" y="362.2" font-family="'Liberation Sans', Arial, sans-serif" font-size="10.5" font-weight="bold" fill="#111">E<tspan font-size="8" dy="2">F</tspan></text>
<text x="542.5" y="381.8" font-family="'Liberation Sans', Arial, sans-serif" font-size="10.5" font-weight="bold" fill="#111">E<tspan font-size="8" dy="2">V</tspan></text>
<text x="572.5" y="388.5" font-family="'Liberation Sans', Arial, sans-serif" font-size="11" font-weight="bold" fill="#111">H<tspan font-size="8" dy="2">2</tspan><tspan dy="-2">O</tspan></text>
<text x="446.5" y="406.5" font-family="'Liberation Sans', Arial, sans-serif" font-size="11.2" font-weight="bold" font-style="italic" fill="#111">ultrasonic</text>
<text x="528.8" y="407.5" font-family="'Liberation Sans', Arial, sans-serif" font-size="11" font-weight="bold" fill="#111">ZnO</text>
<text x="585" y="439" font-family="'Liberation Sans', Arial, sans-serif" font-size="11" font-weight="bold" fill="#111">V<tspan font-size="8" dy="-4">−</tspan></text>
<text x="566" y="462" font-family="'Liberation Sans', Arial, sans-serif" font-size="11" font-weight="bold" fill="#111">V<tspan font-size="8" dy="-4">+</tspan></text>
<text x="500" y="463.5" font-family="'Liberation Sans', Arial, sans-serif" font-size="11" font-weight="bold" fill="#111">O<tspan font-size="8" dy="2">2</tspan><tspan font-size="8" dy="-5">−·</tspan></text>
<text x="551.5" y="497.5" font-family="'Liberation Sans', Arial, sans-serif" font-size="11" font-weight="bold" fill="#111">O<tspan font-size="8" dy="2">2</tspan></text>
<text x="621" y="425" font-family="'Liberation Sans', Arial, sans-serif" font-size="11" font-weight="bold" fill="#111">OH·</text>
<polyline points="475.5,415.0 475.5,416.1 475.5,417.2 475.5,418.1 475.6,418.9 475.9,419.4 476.2,419.7 476.6,419.7 477.1,419.5 477.7,419.1 478.3,418.5 479.0,417.7 479.8,416.9 480.5,416.1 481.2,415.3 481.9,414.7 482.5,414.2 483.0,414.0 483.5,413.9 483.8,414.2 484.0,414.6 484.2,415.3 484.3,416.2 484.3,417.2 484.3,418.3 484.3,419.4 484.3,420.4 484.3,421.3 484.5,422.0 484.7,422.5 485.0,422.8 485.4,422.8 485.9,422.6 486.5,422.2 487.1,421.6 487.9,420.9 488.6,420.1 489.3,419.3 490.0,418.7 490.6,418.1 491.2,417.7 491.7,417.6 492.0,417.7 492.3,418.0 492.5,418.6 492.6,419.4 492.7,420.3 492.7,421.3 492.7,422.3 492.7,423.3 492.8,424.2 492.9,425.0 493.1,425.5 493.4,425.8 493.8,425.9 494.3,425.7 494.9,425.3 495.5,424.8 496.2,424.1 496.9,423.4 497.6,422.7 498.3,422.0 498.9,421.6 499.4,421.3 499.9,421.2 500.3,421.3 500.5,421.7 500.7,422.3 500.8,423.1 500.9,424.0 500.9,425.0 500.9,426.0 501.0,426.9 501.1,427.7 501.3,428.3 501.6,428.6 501.9,428.8 502.4,428.7 502.9,428.4 503.5,428.0 504.2,427.4 504.8,426.7 505.5,426.1 506.2,425.5 506.8,425.0 507.3,424.7 507.8,424.6 508.1,424.8 508.4,425.2 508.6,425.7 508.7,426.5 508.8,427.3 508.8,428.3 508.9,429.2 509.0,430.0 509.1,430.7 509.3,431.2 509.6,431.5 510.0,431.6 510.5,431.5 511.0,431.2 511.6,430.7 512.3,430.2 512.9,429.6 513.6,429.0 514.2,428.5 514.7,428.2 515.2,428.0 515.6,428.1 515.9,428.3 516.2,428.8 516.3,429.5 516.4,430.2 516.5,431.1 516.6,431.9 516.7,432.7 516.9,433.4 517.1,433.9 517.4,434.3 517.7,434.4 518.2,434.3 518.7,434.0 519.3,433.6 519.9,433.1 520.6,432.6 521.2,432.1 521.8,431.7 522.3,431.4 522.7,431.3 523.1,431.4 523.4,431.7 523.6,432.2 523.8,432.8 523.9,433.5 524.0,434.3 524.2,435.1 524.3,435.8 524.5,436.4 524.7,436.8 525.1,437.0 525.5,437.1 526.0,436.9 526.5,436.6 527.1,436.2 527.7,435.7 528.3,435.3 528.9,434.9 529.4,434.6 529.9,434.5 530.3,434.5 530.6,434.8 530.8,435.2 531.0,435.7 531.2,436.4 531.3,437.1 531.5,437.8 531.6,438.5 531.8,439.0 532.1,439.4 532.4,439.6 532.8,439.7" fill="none" stroke="#111" stroke-width="1.3" stroke-linejoin="round"/>
<path d="M580.5,394 Q578,420 592,428 Q604,432 615,423" fill="none" stroke="#222" stroke-width="1"/><polygon points="618.5,420.5 612.5,421.2 615.5,426" fill="#111"/>
<path d="M561,484.7 Q566,456 546.6,449 Q535,446 525,452" fill="none" stroke="#222" stroke-width="1"/><polygon points="522,454 527.5,449.8 527.5,455" fill="#111"/>
</svg>
</body></html>
